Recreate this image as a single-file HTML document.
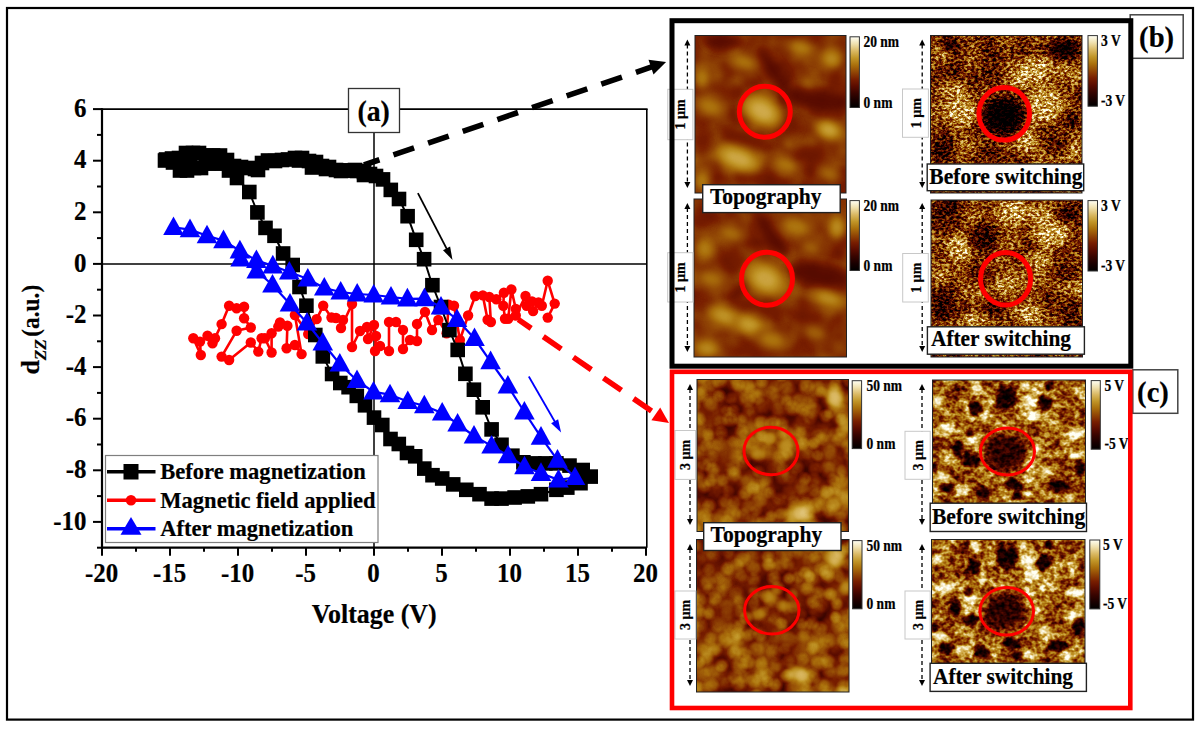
<!DOCTYPE html>
<html><head><meta charset="utf-8"><style>
html,body{margin:0;padding:0;background:#fff;width:1201px;height:729px;overflow:hidden}
svg{display:block}
text{font-family:'Liberation Serif',serif;font-weight:bold;stroke:#000;stroke-width:0.2px}
</style></head><body>
<svg width="1201" height="729" viewBox="0 0 1201 729">
<rect x="0" y="0" width="1201" height="729" fill="#fff"/>
<rect x="7" y="8" width="1186" height="711.6" fill="none" stroke="#000" stroke-width="2.2"/>

<line x1="102.0" y1="109.09999999999997" x2="647.6" y2="109.09999999999997" stroke="#000" stroke-width="1.6"/>
<line x1="646.8" y1="109.09999999999997" x2="646.8" y2="547.7" stroke="#000" stroke-width="1.6"/>
<line x1="102.0" y1="108.29999999999997" x2="102.0" y2="548.7" stroke="#000" stroke-width="2.2"/>
<line x1="101.0" y1="547.7" x2="647.0" y2="547.7" stroke="#000" stroke-width="2.2"/>
<line x1="102.0" y1="263.9" x2="646.0" y2="263.9" stroke="#000" stroke-width="1.5"/>
<line x1="374.0" y1="109.09999999999997" x2="374.0" y2="547.7" stroke="#000" stroke-width="1.5"/>
<line x1="97.0" y1="547.7" x2="102.0" y2="547.7" stroke="#000" stroke-width="2"/>
<line x1="93.0" y1="521.9" x2="102.0" y2="521.9" stroke="#000" stroke-width="2"/>
<text transform="translate(86.4,529.5) scale(1,1.075)" font-size="24.9" text-anchor="end">-10</text>
<line x1="97.0" y1="496.1" x2="102.0" y2="496.1" stroke="#000" stroke-width="2"/>
<line x1="93.0" y1="470.3" x2="102.0" y2="470.3" stroke="#000" stroke-width="2"/>
<text transform="translate(86.4,477.9) scale(1,1.075)" font-size="24.9" text-anchor="end">-8</text>
<line x1="97.0" y1="444.5" x2="102.0" y2="444.5" stroke="#000" stroke-width="2"/>
<line x1="93.0" y1="418.7" x2="102.0" y2="418.7" stroke="#000" stroke-width="2"/>
<text transform="translate(86.4,426.3) scale(1,1.075)" font-size="24.9" text-anchor="end">-6</text>
<line x1="97.0" y1="392.9" x2="102.0" y2="392.9" stroke="#000" stroke-width="2"/>
<line x1="93.0" y1="367.1" x2="102.0" y2="367.1" stroke="#000" stroke-width="2"/>
<text transform="translate(86.4,374.7) scale(1,1.075)" font-size="24.9" text-anchor="end">-4</text>
<line x1="97.0" y1="341.3" x2="102.0" y2="341.3" stroke="#000" stroke-width="2"/>
<line x1="93.0" y1="315.5" x2="102.0" y2="315.5" stroke="#000" stroke-width="2"/>
<text transform="translate(86.4,323.1) scale(1,1.075)" font-size="24.9" text-anchor="end">-2</text>
<line x1="97.0" y1="289.7" x2="102.0" y2="289.7" stroke="#000" stroke-width="2"/>
<line x1="93.0" y1="263.9" x2="102.0" y2="263.9" stroke="#000" stroke-width="2"/>
<text transform="translate(86.4,271.5) scale(1,1.075)" font-size="24.9" text-anchor="end">0</text>
<line x1="97.0" y1="238.1" x2="102.0" y2="238.1" stroke="#000" stroke-width="2"/>
<line x1="93.0" y1="212.3" x2="102.0" y2="212.3" stroke="#000" stroke-width="2"/>
<text transform="translate(86.4,219.9) scale(1,1.075)" font-size="24.9" text-anchor="end">2</text>
<line x1="97.0" y1="186.5" x2="102.0" y2="186.5" stroke="#000" stroke-width="2"/>
<line x1="93.0" y1="160.7" x2="102.0" y2="160.7" stroke="#000" stroke-width="2"/>
<text transform="translate(86.4,168.3) scale(1,1.075)" font-size="24.9" text-anchor="end">4</text>
<line x1="97.0" y1="134.9" x2="102.0" y2="134.9" stroke="#000" stroke-width="2"/>
<line x1="93.0" y1="109.1" x2="102.0" y2="109.1" stroke="#000" stroke-width="2"/>
<text transform="translate(86.4,116.7) scale(1,1.075)" font-size="24.9" text-anchor="end">6</text>
<line x1="102.0" y1="547.7" x2="102.0" y2="555.7" stroke="#000" stroke-width="2"/>
<text transform="translate(101.5,581.6) scale(1,1.075)" font-size="24.9" text-anchor="middle">-20</text>
<line x1="136.0" y1="547.7" x2="136.0" y2="551.7" stroke="#000" stroke-width="2"/>
<line x1="170.0" y1="547.7" x2="170.0" y2="555.7" stroke="#000" stroke-width="2"/>
<text transform="translate(169.5,581.6) scale(1,1.075)" font-size="24.9" text-anchor="middle">-15</text>
<line x1="204.0" y1="547.7" x2="204.0" y2="551.7" stroke="#000" stroke-width="2"/>
<line x1="238.0" y1="547.7" x2="238.0" y2="555.7" stroke="#000" stroke-width="2"/>
<text transform="translate(237.5,581.6) scale(1,1.075)" font-size="24.9" text-anchor="middle">-10</text>
<line x1="272.0" y1="547.7" x2="272.0" y2="551.7" stroke="#000" stroke-width="2"/>
<line x1="306.0" y1="547.7" x2="306.0" y2="555.7" stroke="#000" stroke-width="2"/>
<text transform="translate(305.5,581.6) scale(1,1.075)" font-size="24.9" text-anchor="middle">-5</text>
<line x1="340.0" y1="547.7" x2="340.0" y2="551.7" stroke="#000" stroke-width="2"/>
<line x1="374.0" y1="547.7" x2="374.0" y2="555.7" stroke="#000" stroke-width="2"/>
<text transform="translate(373.5,581.6) scale(1,1.075)" font-size="24.9" text-anchor="middle">0</text>
<line x1="408.0" y1="547.7" x2="408.0" y2="551.7" stroke="#000" stroke-width="2"/>
<line x1="442.0" y1="547.7" x2="442.0" y2="555.7" stroke="#000" stroke-width="2"/>
<text transform="translate(441.5,581.6) scale(1,1.075)" font-size="24.9" text-anchor="middle">5</text>
<line x1="476.0" y1="547.7" x2="476.0" y2="551.7" stroke="#000" stroke-width="2"/>
<line x1="510.0" y1="547.7" x2="510.0" y2="555.7" stroke="#000" stroke-width="2"/>
<text transform="translate(509.5,581.6) scale(1,1.075)" font-size="24.9" text-anchor="middle">10</text>
<line x1="544.0" y1="547.7" x2="544.0" y2="551.7" stroke="#000" stroke-width="2"/>
<line x1="578.0" y1="547.7" x2="578.0" y2="555.7" stroke="#000" stroke-width="2"/>
<text transform="translate(577.5,581.6) scale(1,1.075)" font-size="24.9" text-anchor="middle">15</text>
<line x1="612.0" y1="547.7" x2="612.0" y2="551.7" stroke="#000" stroke-width="2"/>
<line x1="646.0" y1="547.7" x2="646.0" y2="555.7" stroke="#000" stroke-width="2"/>
<text transform="translate(645.5,581.6) scale(1,1.075)" font-size="24.9" text-anchor="middle">20</text>
<text transform="translate(374.2,623.2) scale(1,1.05)" font-size="25.9" text-anchor="middle">Voltage (V)</text>
<g transform="translate(38.8,374.6) rotate(-90)"><text x="0" y="0" font-size="26">d</text><text x="14.4" y="7.2" font-size="16.8" font-style="italic" textLength="21" lengthAdjust="spacingAndGlyphs">ZZ</text><text x="37.8" y="0" font-size="24.6" textLength="52" lengthAdjust="spacingAndGlyphs">(a.u.)</text></g>
<polyline points="193.3,338.3 200.8,355.0 200.0,341.6 207.5,335.8 215.0,338.3 212.5,343.3 221.6,324.1 229.1,305.8 236.6,308.3 244.1,306.7 244.1,318.3 250.8,327.5 236.6,330.8 221.6,356.6 229.1,360.0 250.8,342.5 258.3,351.6 261.6,338.3 264.9,338.3 271.6,352.5 271.6,333.3 278.3,326.6 280.0,322.5 287.4,325.8 286.6,348.3 294.9,345.0 301.6,354.1 294.9,315.0 308.2,334.1 316.6,319.1 323.2,305.8 331.5,317.5 336.0,318.0 343.0,320.0 341.0,328.0 352.0,304.0 352.0,347.0 360.0,331.0 367.0,327.0 368.0,339.0 374.0,325.0 376.0,336.0 375.0,351.0 380.0,346.0 389.0,351.0 389.0,322.0 396.0,322.0 403.0,330.0 403.0,349.0 410.0,340.0 417.0,341.0 417.0,324.0 425.0,312.0 432.0,330.0 438.3,320.0 446.6,333.3 448.7,304.6 454.0,305.7 459.9,340.0 468.1,315.5 475.2,296.0 482.8,295.4 487.6,319.8 490.9,322.0 489.3,297.0 496.3,299.2 503.9,292.7 503.3,305.7 505.0,318.7 508.2,318.7 511.4,289.5 515.8,309.0 515.8,315.5 525.5,296.0 526.6,305.7 532.0,301.4 533.1,311.1 538.5,302.5 541.8,305.7 547.7,280.8 554.7,303.6 547.7,317.6" fill="none" stroke="#f00" stroke-width="2.6" stroke-linejoin="round"/>
<circle cx="193.3" cy="338.3" r="5.2" fill="#f00"/>
<circle cx="200.8" cy="355.0" r="5.2" fill="#f00"/>
<circle cx="200.0" cy="341.6" r="5.2" fill="#f00"/>
<circle cx="207.5" cy="335.8" r="5.2" fill="#f00"/>
<circle cx="215.0" cy="338.3" r="5.2" fill="#f00"/>
<circle cx="212.5" cy="343.3" r="5.2" fill="#f00"/>
<circle cx="221.6" cy="324.1" r="5.2" fill="#f00"/>
<circle cx="229.1" cy="305.8" r="5.2" fill="#f00"/>
<circle cx="236.6" cy="308.3" r="5.2" fill="#f00"/>
<circle cx="244.1" cy="306.7" r="5.2" fill="#f00"/>
<circle cx="244.1" cy="318.3" r="5.2" fill="#f00"/>
<circle cx="250.8" cy="327.5" r="5.2" fill="#f00"/>
<circle cx="236.6" cy="330.8" r="5.2" fill="#f00"/>
<circle cx="221.6" cy="356.6" r="5.2" fill="#f00"/>
<circle cx="229.1" cy="360.0" r="5.2" fill="#f00"/>
<circle cx="250.8" cy="342.5" r="5.2" fill="#f00"/>
<circle cx="258.3" cy="351.6" r="5.2" fill="#f00"/>
<circle cx="261.6" cy="338.3" r="5.2" fill="#f00"/>
<circle cx="264.9" cy="338.3" r="5.2" fill="#f00"/>
<circle cx="271.6" cy="352.5" r="5.2" fill="#f00"/>
<circle cx="271.6" cy="333.3" r="5.2" fill="#f00"/>
<circle cx="278.3" cy="326.6" r="5.2" fill="#f00"/>
<circle cx="280.0" cy="322.5" r="5.2" fill="#f00"/>
<circle cx="287.4" cy="325.8" r="5.2" fill="#f00"/>
<circle cx="286.6" cy="348.3" r="5.2" fill="#f00"/>
<circle cx="294.9" cy="345.0" r="5.2" fill="#f00"/>
<circle cx="301.6" cy="354.1" r="5.2" fill="#f00"/>
<circle cx="294.9" cy="315.0" r="5.2" fill="#f00"/>
<circle cx="308.2" cy="334.1" r="5.2" fill="#f00"/>
<circle cx="316.6" cy="319.1" r="5.2" fill="#f00"/>
<circle cx="323.2" cy="305.8" r="5.2" fill="#f00"/>
<circle cx="331.5" cy="317.5" r="5.2" fill="#f00"/>
<circle cx="336.0" cy="318.0" r="5.2" fill="#f00"/>
<circle cx="343.0" cy="320.0" r="5.2" fill="#f00"/>
<circle cx="341.0" cy="328.0" r="5.2" fill="#f00"/>
<circle cx="352.0" cy="304.0" r="5.2" fill="#f00"/>
<circle cx="352.0" cy="347.0" r="5.2" fill="#f00"/>
<circle cx="360.0" cy="331.0" r="5.2" fill="#f00"/>
<circle cx="367.0" cy="327.0" r="5.2" fill="#f00"/>
<circle cx="368.0" cy="339.0" r="5.2" fill="#f00"/>
<circle cx="374.0" cy="325.0" r="5.2" fill="#f00"/>
<circle cx="376.0" cy="336.0" r="5.2" fill="#f00"/>
<circle cx="375.0" cy="351.0" r="5.2" fill="#f00"/>
<circle cx="380.0" cy="346.0" r="5.2" fill="#f00"/>
<circle cx="389.0" cy="351.0" r="5.2" fill="#f00"/>
<circle cx="389.0" cy="322.0" r="5.2" fill="#f00"/>
<circle cx="396.0" cy="322.0" r="5.2" fill="#f00"/>
<circle cx="403.0" cy="330.0" r="5.2" fill="#f00"/>
<circle cx="403.0" cy="349.0" r="5.2" fill="#f00"/>
<circle cx="410.0" cy="340.0" r="5.2" fill="#f00"/>
<circle cx="417.0" cy="341.0" r="5.2" fill="#f00"/>
<circle cx="417.0" cy="324.0" r="5.2" fill="#f00"/>
<circle cx="425.0" cy="312.0" r="5.2" fill="#f00"/>
<circle cx="432.0" cy="330.0" r="5.2" fill="#f00"/>
<circle cx="438.3" cy="320.0" r="5.2" fill="#f00"/>
<circle cx="446.6" cy="333.3" r="5.2" fill="#f00"/>
<circle cx="448.7" cy="304.6" r="5.2" fill="#f00"/>
<circle cx="454.0" cy="305.7" r="5.2" fill="#f00"/>
<circle cx="459.9" cy="340.0" r="5.2" fill="#f00"/>
<circle cx="468.1" cy="315.5" r="5.2" fill="#f00"/>
<circle cx="475.2" cy="296.0" r="5.2" fill="#f00"/>
<circle cx="482.8" cy="295.4" r="5.2" fill="#f00"/>
<circle cx="487.6" cy="319.8" r="5.2" fill="#f00"/>
<circle cx="490.9" cy="322.0" r="5.2" fill="#f00"/>
<circle cx="489.3" cy="297.0" r="5.2" fill="#f00"/>
<circle cx="496.3" cy="299.2" r="5.2" fill="#f00"/>
<circle cx="503.9" cy="292.7" r="5.2" fill="#f00"/>
<circle cx="503.3" cy="305.7" r="5.2" fill="#f00"/>
<circle cx="505.0" cy="318.7" r="5.2" fill="#f00"/>
<circle cx="508.2" cy="318.7" r="5.2" fill="#f00"/>
<circle cx="511.4" cy="289.5" r="5.2" fill="#f00"/>
<circle cx="515.8" cy="309.0" r="5.2" fill="#f00"/>
<circle cx="515.8" cy="315.5" r="5.2" fill="#f00"/>
<circle cx="525.5" cy="296.0" r="5.2" fill="#f00"/>
<circle cx="526.6" cy="305.7" r="5.2" fill="#f00"/>
<circle cx="532.0" cy="301.4" r="5.2" fill="#f00"/>
<circle cx="533.1" cy="311.1" r="5.2" fill="#f00"/>
<circle cx="538.5" cy="302.5" r="5.2" fill="#f00"/>
<circle cx="541.8" cy="305.7" r="5.2" fill="#f00"/>
<circle cx="547.7" cy="280.8" r="5.2" fill="#f00"/>
<circle cx="554.7" cy="303.6" r="5.2" fill="#f00"/>
<circle cx="547.7" cy="317.6" r="5.2" fill="#f00"/>
<polyline points="165.0,160.5 172.0,158.5 179.0,158.0 190.0,161.0 186.0,153.0 193.0,153.0 199.0,153.0 206.0,155.5 213.0,155.5 220.0,155.5 227.0,160.0 234.0,166.0 241.0,167.0 248.0,168.0 255.0,169.0 258.0,170.0 262.0,163.0 268.0,160.5 275.0,161.0 282.0,160.0 288.0,159.5 295.0,158.0 302.0,158.0 299.0,160.5 309.0,161.0 312.0,167.5 316.0,162.0 322.0,166.0 326.0,169.0 329.0,167.0 336.0,170.0 341.0,171.0 343.0,170.5 350.0,170.5 355.0,170.0 357.0,171.0 364.0,172.0 364.0,175.0 370.0,174.0 376.0,176.0 383.0,179.4 390.8,189.9 399.0,199.0 407.6,216.2 416.2,239.8 424.1,259.2 432.4,285.2 441.0,307.0 449.4,330.1 457.7,349.9 465.4,373.8 473.9,389.7 482.7,407.3 491.6,429.4 501.5,444.8 512.4,455.7 523.4,462.3 534.4,463.4 545.4,463.4 556.4,463.4 569.5,465.6 582.7,470.0 590.7,476.6 580.5,483.2 567.3,487.6 556.4,489.8 541.0,494.2 527.8,496.4 514.6,497.5 501.5,498.6 491.6,498.6 479.5,494.2 466.3,489.8 453.2,484.4 442.2,478.5 432.5,475.2 424.3,468.6 415.2,456.3 407.0,453.0 398.8,444.0 390.5,439.0 382.3,425.0 374.0,417.6 365.0,405.3 356.8,395.9 348.6,387.2 340.3,383.0 332.1,374.0 322.8,356.4 315.3,335.0 306.4,305.7 299.5,287.0 292.7,265.0 283.1,253.5 274.5,235.8 265.5,227.9 257.4,212.4 249.3,192.0 237.0,178.0 229.0,170.5 222.0,163.5 215.0,163.5 208.0,163.5 201.0,168.0 194.0,168.0 187.0,170.5 180.0,170.5 173.0,162.5 166.0,159.5" fill="none" stroke="#000" stroke-width="2" stroke-linejoin="round"/>
<rect x="157.7" y="153.2" width="14.6" height="14.6" fill="#000"/>
<rect x="164.7" y="151.2" width="14.6" height="14.6" fill="#000"/>
<rect x="171.7" y="150.7" width="14.6" height="14.6" fill="#000"/>
<rect x="182.7" y="153.7" width="14.6" height="14.6" fill="#000"/>
<rect x="178.7" y="145.7" width="14.6" height="14.6" fill="#000"/>
<rect x="185.7" y="145.7" width="14.6" height="14.6" fill="#000"/>
<rect x="191.7" y="145.7" width="14.6" height="14.6" fill="#000"/>
<rect x="198.7" y="148.2" width="14.6" height="14.6" fill="#000"/>
<rect x="205.7" y="148.2" width="14.6" height="14.6" fill="#000"/>
<rect x="212.7" y="148.2" width="14.6" height="14.6" fill="#000"/>
<rect x="219.7" y="152.7" width="14.6" height="14.6" fill="#000"/>
<rect x="226.7" y="158.7" width="14.6" height="14.6" fill="#000"/>
<rect x="233.7" y="159.7" width="14.6" height="14.6" fill="#000"/>
<rect x="240.7" y="160.7" width="14.6" height="14.6" fill="#000"/>
<rect x="247.7" y="161.7" width="14.6" height="14.6" fill="#000"/>
<rect x="250.7" y="162.7" width="14.6" height="14.6" fill="#000"/>
<rect x="254.7" y="155.7" width="14.6" height="14.6" fill="#000"/>
<rect x="260.7" y="153.2" width="14.6" height="14.6" fill="#000"/>
<rect x="267.7" y="153.7" width="14.6" height="14.6" fill="#000"/>
<rect x="274.7" y="152.7" width="14.6" height="14.6" fill="#000"/>
<rect x="280.7" y="152.2" width="14.6" height="14.6" fill="#000"/>
<rect x="287.7" y="150.7" width="14.6" height="14.6" fill="#000"/>
<rect x="294.7" y="150.7" width="14.6" height="14.6" fill="#000"/>
<rect x="291.7" y="153.2" width="14.6" height="14.6" fill="#000"/>
<rect x="301.7" y="153.7" width="14.6" height="14.6" fill="#000"/>
<rect x="304.7" y="160.2" width="14.6" height="14.6" fill="#000"/>
<rect x="308.7" y="154.7" width="14.6" height="14.6" fill="#000"/>
<rect x="314.7" y="158.7" width="14.6" height="14.6" fill="#000"/>
<rect x="318.7" y="161.7" width="14.6" height="14.6" fill="#000"/>
<rect x="321.7" y="159.7" width="14.6" height="14.6" fill="#000"/>
<rect x="328.7" y="162.7" width="14.6" height="14.6" fill="#000"/>
<rect x="333.7" y="163.7" width="14.6" height="14.6" fill="#000"/>
<rect x="335.7" y="163.2" width="14.6" height="14.6" fill="#000"/>
<rect x="342.7" y="163.2" width="14.6" height="14.6" fill="#000"/>
<rect x="347.7" y="162.7" width="14.6" height="14.6" fill="#000"/>
<rect x="349.7" y="163.7" width="14.6" height="14.6" fill="#000"/>
<rect x="356.7" y="164.7" width="14.6" height="14.6" fill="#000"/>
<rect x="356.7" y="167.7" width="14.6" height="14.6" fill="#000"/>
<rect x="362.7" y="166.7" width="14.6" height="14.6" fill="#000"/>
<rect x="368.7" y="168.7" width="14.6" height="14.6" fill="#000"/>
<rect x="375.7" y="172.1" width="14.6" height="14.6" fill="#000"/>
<rect x="383.5" y="182.6" width="14.6" height="14.6" fill="#000"/>
<rect x="391.7" y="191.7" width="14.6" height="14.6" fill="#000"/>
<rect x="400.3" y="208.9" width="14.6" height="14.6" fill="#000"/>
<rect x="408.9" y="232.5" width="14.6" height="14.6" fill="#000"/>
<rect x="416.8" y="251.9" width="14.6" height="14.6" fill="#000"/>
<rect x="425.1" y="277.9" width="14.6" height="14.6" fill="#000"/>
<rect x="433.7" y="299.7" width="14.6" height="14.6" fill="#000"/>
<rect x="442.1" y="322.8" width="14.6" height="14.6" fill="#000"/>
<rect x="450.4" y="342.6" width="14.6" height="14.6" fill="#000"/>
<rect x="458.1" y="366.5" width="14.6" height="14.6" fill="#000"/>
<rect x="466.6" y="382.4" width="14.6" height="14.6" fill="#000"/>
<rect x="475.4" y="400.0" width="14.6" height="14.6" fill="#000"/>
<rect x="484.3" y="422.1" width="14.6" height="14.6" fill="#000"/>
<rect x="494.2" y="437.5" width="14.6" height="14.6" fill="#000"/>
<rect x="505.1" y="448.4" width="14.6" height="14.6" fill="#000"/>
<rect x="516.1" y="455.0" width="14.6" height="14.6" fill="#000"/>
<rect x="527.1" y="456.1" width="14.6" height="14.6" fill="#000"/>
<rect x="538.1" y="456.1" width="14.6" height="14.6" fill="#000"/>
<rect x="549.1" y="456.1" width="14.6" height="14.6" fill="#000"/>
<rect x="562.2" y="458.3" width="14.6" height="14.6" fill="#000"/>
<rect x="575.4" y="462.7" width="14.6" height="14.6" fill="#000"/>
<rect x="583.4" y="469.3" width="14.6" height="14.6" fill="#000"/>
<rect x="573.2" y="475.9" width="14.6" height="14.6" fill="#000"/>
<rect x="560.0" y="480.3" width="14.6" height="14.6" fill="#000"/>
<rect x="549.1" y="482.5" width="14.6" height="14.6" fill="#000"/>
<rect x="533.7" y="486.9" width="14.6" height="14.6" fill="#000"/>
<rect x="520.5" y="489.1" width="14.6" height="14.6" fill="#000"/>
<rect x="507.3" y="490.2" width="14.6" height="14.6" fill="#000"/>
<rect x="494.2" y="491.3" width="14.6" height="14.6" fill="#000"/>
<rect x="484.3" y="491.3" width="14.6" height="14.6" fill="#000"/>
<rect x="472.2" y="486.9" width="14.6" height="14.6" fill="#000"/>
<rect x="459.0" y="482.5" width="14.6" height="14.6" fill="#000"/>
<rect x="445.9" y="477.1" width="14.6" height="14.6" fill="#000"/>
<rect x="434.9" y="471.2" width="14.6" height="14.6" fill="#000"/>
<rect x="425.2" y="467.9" width="14.6" height="14.6" fill="#000"/>
<rect x="417.0" y="461.3" width="14.6" height="14.6" fill="#000"/>
<rect x="407.9" y="449.0" width="14.6" height="14.6" fill="#000"/>
<rect x="399.7" y="445.7" width="14.6" height="14.6" fill="#000"/>
<rect x="391.5" y="436.7" width="14.6" height="14.6" fill="#000"/>
<rect x="383.2" y="431.7" width="14.6" height="14.6" fill="#000"/>
<rect x="375.0" y="417.7" width="14.6" height="14.6" fill="#000"/>
<rect x="366.7" y="410.3" width="14.6" height="14.6" fill="#000"/>
<rect x="357.7" y="398.0" width="14.6" height="14.6" fill="#000"/>
<rect x="349.5" y="388.6" width="14.6" height="14.6" fill="#000"/>
<rect x="341.3" y="379.9" width="14.6" height="14.6" fill="#000"/>
<rect x="333.0" y="375.7" width="14.6" height="14.6" fill="#000"/>
<rect x="324.8" y="366.7" width="14.6" height="14.6" fill="#000"/>
<rect x="315.5" y="349.1" width="14.6" height="14.6" fill="#000"/>
<rect x="308.0" y="327.7" width="14.6" height="14.6" fill="#000"/>
<rect x="299.1" y="298.4" width="14.6" height="14.6" fill="#000"/>
<rect x="292.2" y="279.7" width="14.6" height="14.6" fill="#000"/>
<rect x="285.4" y="257.7" width="14.6" height="14.6" fill="#000"/>
<rect x="275.8" y="246.2" width="14.6" height="14.6" fill="#000"/>
<rect x="267.2" y="228.5" width="14.6" height="14.6" fill="#000"/>
<rect x="258.2" y="220.6" width="14.6" height="14.6" fill="#000"/>
<rect x="250.1" y="205.1" width="14.6" height="14.6" fill="#000"/>
<rect x="242.0" y="184.7" width="14.6" height="14.6" fill="#000"/>
<rect x="229.7" y="170.7" width="14.6" height="14.6" fill="#000"/>
<rect x="221.7" y="163.2" width="14.6" height="14.6" fill="#000"/>
<rect x="214.7" y="156.2" width="14.6" height="14.6" fill="#000"/>
<rect x="207.7" y="156.2" width="14.6" height="14.6" fill="#000"/>
<rect x="200.7" y="156.2" width="14.6" height="14.6" fill="#000"/>
<rect x="193.7" y="160.7" width="14.6" height="14.6" fill="#000"/>
<rect x="186.7" y="160.7" width="14.6" height="14.6" fill="#000"/>
<rect x="179.7" y="163.2" width="14.6" height="14.6" fill="#000"/>
<rect x="172.7" y="163.2" width="14.6" height="14.6" fill="#000"/>
<rect x="165.7" y="155.2" width="14.6" height="14.6" fill="#000"/>
<rect x="158.7" y="152.2" width="14.6" height="14.6" fill="#000"/>
<polyline points="173.5,227.4 190.0,229.6 207.0,235.7 223.5,240.6 239.9,250.8 256.4,260.4 272.8,265.8 289.3,272.0 307.8,279.0 324.3,288.0 340.7,292.0 357.2,294.0 373.7,295.0 391.0,297.0 407.4,298.8 424.5,298.6 441.0,307.0 457.0,319.4 474.5,338.5 490.6,361.6 507.9,386.0 524.4,412.0 541.0,437.1 557.5,460.1 575.0,477.5 558.5,479.9 541.0,473.3 524.5,466.7 508.1,455.7 491.6,445.9 474.0,436.0 457.6,423.9 442.2,413.0 424.3,405.7 407.8,401.5 390.0,394.7 373.5,391.9 357.0,380.5 339.8,364.0 322.8,343.0 307.0,323.0 290.0,304.0 272.5,285.0 256.7,271.0 240.6,259.0" fill="none" stroke="#00f" stroke-width="2.2" stroke-linejoin="round"/>
<path d="M173.5,216.4L183.8,235.0L163.2,235.0Z" fill="#00f"/>
<path d="M190.0,218.6L200.3,237.2L179.7,237.2Z" fill="#00f"/>
<path d="M207.0,224.7L217.3,243.3L196.7,243.3Z" fill="#00f"/>
<path d="M223.5,229.6L233.8,248.2L213.2,248.2Z" fill="#00f"/>
<path d="M239.9,239.8L250.2,258.4L229.6,258.4Z" fill="#00f"/>
<path d="M256.4,249.4L266.7,268.0L246.1,268.0Z" fill="#00f"/>
<path d="M272.8,254.8L283.1,273.4L262.5,273.4Z" fill="#00f"/>
<path d="M289.3,261.0L299.6,279.6L279.0,279.6Z" fill="#00f"/>
<path d="M307.8,268.0L318.1,286.6L297.5,286.6Z" fill="#00f"/>
<path d="M324.3,277.0L334.6,295.6L314.0,295.6Z" fill="#00f"/>
<path d="M340.7,281.0L351.0,299.6L330.4,299.6Z" fill="#00f"/>
<path d="M357.2,283.0L367.5,301.6L346.9,301.6Z" fill="#00f"/>
<path d="M373.7,284.0L384.0,302.6L363.4,302.6Z" fill="#00f"/>
<path d="M391.0,286.0L401.3,304.6L380.7,304.6Z" fill="#00f"/>
<path d="M407.4,287.8L417.7,306.4L397.1,306.4Z" fill="#00f"/>
<path d="M424.5,287.6L434.8,306.2L414.2,306.2Z" fill="#00f"/>
<path d="M441.0,296.0L451.3,314.6L430.7,314.6Z" fill="#00f"/>
<path d="M457.0,308.4L467.3,327.0L446.7,327.0Z" fill="#00f"/>
<path d="M474.5,327.5L484.8,346.1L464.2,346.1Z" fill="#00f"/>
<path d="M490.6,350.6L500.9,369.2L480.3,369.2Z" fill="#00f"/>
<path d="M507.9,375.0L518.2,393.6L497.6,393.6Z" fill="#00f"/>
<path d="M524.4,401.0L534.7,419.6L514.1,419.6Z" fill="#00f"/>
<path d="M541.0,426.1L551.3,444.7L530.7,444.7Z" fill="#00f"/>
<path d="M557.5,449.1L567.8,467.7L547.2,467.7Z" fill="#00f"/>
<path d="M575.0,466.5L585.3,485.1L564.7,485.1Z" fill="#00f"/>
<path d="M558.5,468.9L568.8,487.5L548.2,487.5Z" fill="#00f"/>
<path d="M541.0,462.3L551.3,480.9L530.7,480.9Z" fill="#00f"/>
<path d="M524.5,455.7L534.8,474.3L514.2,474.3Z" fill="#00f"/>
<path d="M508.1,444.7L518.4,463.3L497.8,463.3Z" fill="#00f"/>
<path d="M491.6,434.9L501.9,453.5L481.3,453.5Z" fill="#00f"/>
<path d="M474.0,425.0L484.3,443.6L463.7,443.6Z" fill="#00f"/>
<path d="M457.6,412.9L467.9,431.5L447.3,431.5Z" fill="#00f"/>
<path d="M442.2,402.0L452.5,420.6L431.9,420.6Z" fill="#00f"/>
<path d="M424.3,394.7L434.6,413.3L414.0,413.3Z" fill="#00f"/>
<path d="M407.8,390.5L418.1,409.1L397.5,409.1Z" fill="#00f"/>
<path d="M390.0,383.7L400.3,402.3L379.7,402.3Z" fill="#00f"/>
<path d="M373.5,380.9L383.8,399.5L363.2,399.5Z" fill="#00f"/>
<path d="M357.0,369.5L367.3,388.1L346.7,388.1Z" fill="#00f"/>
<path d="M339.8,353.0L350.1,371.6L329.5,371.6Z" fill="#00f"/>
<path d="M322.8,332.0L333.1,350.6L312.5,350.6Z" fill="#00f"/>
<path d="M307.0,312.0L317.3,330.6L296.7,330.6Z" fill="#00f"/>
<path d="M290.0,293.0L300.3,311.6L279.7,311.6Z" fill="#00f"/>
<path d="M272.5,274.0L282.8,292.6L262.2,292.6Z" fill="#00f"/>
<path d="M256.7,260.0L267.0,278.6L246.4,278.6Z" fill="#00f"/>
<path d="M240.6,248.0L250.9,266.6L230.3,266.6Z" fill="#00f"/>
<rect x="105.5" y="455.5" width="272.5" height="87" fill="#fff" stroke="#7f7f7f" stroke-width="1.2"/>
<line x1="107" y1="471.7" x2="155.5" y2="471.7" stroke="#000" stroke-width="3.6"/><rect x="123.5" y="464" width="15" height="15.5" fill="#000"/>
<line x1="107" y1="500.2" x2="155.5" y2="500.2" stroke="#f00" stroke-width="3.6"/><circle cx="131" cy="500.2" r="5.3" fill="#f00"/>
<line x1="107" y1="528.7" x2="155.5" y2="528.7" stroke="#00f" stroke-width="3.6"/><path d="M131,517L141.5,534.8L120.5,534.8Z" fill="#00f"/>
<text transform="translate(160.3,479.2) scale(1,1.045)" font-size="22.55" text-anchor="start">Before magnetization</text>
<text transform="translate(160.3,507.7) scale(1,1.045)" font-size="22.55" text-anchor="start">Magnetic field applied</text>
<text transform="translate(160.3,535.9) scale(1,1.045)" font-size="22.55" text-anchor="start">After magnetization</text>
<rect x="348.5" y="88.5" width="51" height="44" fill="#fff" stroke="#333" stroke-width="1.3"/>
<text transform="translate(373.6,121.3) scale(1,1.06)" font-size="27.8" text-anchor="middle">(a)</text>
<line x1="417.9" y1="193.2" x2="448.3" y2="251.8" stroke="#000" stroke-width="1.8" /><path d="M452.5,259.9L443.0,250.2L450.1,246.5Z" fill="#000"/>
<line x1="528.8" y1="376.5" x2="556.6" y2="424.7" stroke="#00f" stroke-width="1.8" /><path d="M561.1,432.6L551.1,423.3L558.1,419.3Z" fill="#00f"/>
<line x1="364.0" y1="165.0" x2="653.8" y2="66.2" stroke="#000" stroke-width="5.6" stroke-dasharray="21.8,14.8" stroke-dashoffset="5.49"/><path d="M666.1,62.0L653.5,74.5L648.5,59.8Z" fill="#000"/>
<line x1="518.3" y1="319.5" x2="658.3" y2="415.6" stroke="#f00" stroke-width="5.6" stroke-dasharray="21.8,14.7" stroke-dashoffset="6.19"/><path d="M669.0,423.0L651.4,420.3L660.2,407.6Z" fill="#f00"/>
<defs>
<linearGradient id="cbar" x1="0" y1="1" x2="0" y2="0"><stop offset="0.0" stop-color="rgb(0,0,0)"/><stop offset="0.1" stop-color="rgb(25,0,0)"/><stop offset="0.2" stop-color="rgb(55,4,0)"/><stop offset="0.3" stop-color="rgb(90,12,0)"/><stop offset="0.4" stop-color="rgb(120,30,0)"/><stop offset="0.5" stop-color="rgb(145,70,5)"/><stop offset="0.6" stop-color="rgb(170,112,12)"/><stop offset="0.7" stop-color="rgb(193,150,40)"/><stop offset="0.8" stop-color="rgb(218,185,100)"/><stop offset="0.9" stop-color="rgb(240,225,175)"/><stop offset="1.0" stop-color="rgb(255,255,245)"/></linearGradient>
<filter id="bl1" x="-100%" y="-100%" width="300%" height="300%"><feGaussianBlur stdDeviation="1"/></filter>
<filter id="bl1_5" x="-100%" y="-100%" width="300%" height="300%"><feGaussianBlur stdDeviation="1.5"/></filter>
<filter id="bl2" x="-100%" y="-100%" width="300%" height="300%"><feGaussianBlur stdDeviation="2"/></filter>
<filter id="bl2_5" x="-100%" y="-100%" width="300%" height="300%"><feGaussianBlur stdDeviation="2.5"/></filter>
<filter id="bl3" x="-100%" y="-100%" width="300%" height="300%"><feGaussianBlur stdDeviation="3"/></filter>
<filter id="bl4" x="-100%" y="-100%" width="300%" height="300%"><feGaussianBlur stdDeviation="4"/></filter>
<filter id="bl5" x="-100%" y="-100%" width="300%" height="300%"><feGaussianBlur stdDeviation="5"/></filter>
<filter id="bl6" x="-100%" y="-100%" width="300%" height="300%"><feGaussianBlur stdDeviation="6"/></filter>
<filter id="bl7" x="-100%" y="-100%" width="300%" height="300%"><feGaussianBlur stdDeviation="7"/></filter>
<filter id="bl8" x="-100%" y="-100%" width="300%" height="300%"><feGaussianBlur stdDeviation="8"/></filter>
<filter id="bl9" x="-100%" y="-100%" width="300%" height="300%"><feGaussianBlur stdDeviation="9"/></filter>
<filter id="bl10" x="-100%" y="-100%" width="300%" height="300%"><feGaussianBlur stdDeviation="10"/></filter>
<radialGradient id="grain"><stop offset="0" stop-color="#fff" stop-opacity="1"/><stop offset="0.55" stop-color="#fff" stop-opacity="0.7"/><stop offset="1" stop-color="#fff" stop-opacity="0"/></radialGradient>
<filter id="nz_b1_lo" x="0" y="0" width="1" height="1" color-interpolation-filters="sRGB"><feTurbulence type="fractalNoise" baseFrequency="0.04" numOctaves="2" seed="3"/><feColorMatrix type="matrix" values="0.45 0 0 0 0.215 0.45 0 0 0 0.215 0.45 0 0 0 0.215 0 0 0 0 1"/></filter>
<filter id="pal_b1" x="0" y="0" width="1" height="1" color-interpolation-filters="sRGB"><feComponentTransfer><feFuncR type="linear" slope="1.0" intercept="0.0"/><feFuncG type="linear" slope="1.0" intercept="0.0"/><feFuncB type="linear" slope="1.0" intercept="0.0"/></feComponentTransfer><feComponentTransfer><feFuncR type="table" tableValues="0.000 0.098 0.216 0.353 0.471 0.569 0.667 0.757 0.855 0.941 1.000"/><feFuncG type="table" tableValues="0.000 0.000 0.016 0.047 0.118 0.275 0.439 0.588 0.725 0.882 1.000"/><feFuncB type="table" tableValues="0.000 0.000 0.000 0.000 0.000 0.020 0.047 0.157 0.392 0.686 0.961"/></feComponentTransfer></filter>
<clipPath id="cp_b1"><rect x="695" y="35.5" width="151" height="157.5"/></clipPath>
<filter id="nz_b3_lo" x="0" y="0" width="1" height="1" color-interpolation-filters="sRGB"><feTurbulence type="fractalNoise" baseFrequency="0.04" numOctaves="2" seed="11"/><feColorMatrix type="matrix" values="0.45 0 0 0 0.215 0.45 0 0 0 0.215 0.45 0 0 0 0.215 0 0 0 0 1"/></filter>
<filter id="pal_b3" x="0" y="0" width="1" height="1" color-interpolation-filters="sRGB"><feComponentTransfer><feFuncR type="linear" slope="1.0" intercept="0.0"/><feFuncG type="linear" slope="1.0" intercept="0.0"/><feFuncB type="linear" slope="1.0" intercept="0.0"/></feComponentTransfer><feComponentTransfer><feFuncR type="table" tableValues="0.000 0.098 0.216 0.353 0.471 0.569 0.667 0.757 0.855 0.941 1.000"/><feFuncG type="table" tableValues="0.000 0.000 0.016 0.047 0.118 0.275 0.439 0.588 0.725 0.882 1.000"/><feFuncB type="table" tableValues="0.000 0.000 0.000 0.000 0.000 0.020 0.047 0.157 0.392 0.686 0.961"/></feComponentTransfer></filter>
<clipPath id="cp_b3"><rect x="694" y="199" width="152.5" height="158"/></clipPath>
<filter id="nz_b2_lo" x="0" y="0" width="1" height="1" color-interpolation-filters="sRGB"><feTurbulence type="fractalNoise" baseFrequency="0.03" numOctaves="2" seed="5"/><feColorMatrix type="matrix" values="0.8 0 0 0 0.100 0.8 0 0 0 0.100 0.8 0 0 0 0.100 0 0 0 0 1"/></filter>
<filter id="nz_b2_hi" x="0" y="0" width="1" height="1" color-interpolation-filters="sRGB"><feTurbulence type="fractalNoise" baseFrequency="0.28 0.42" numOctaves="3" seed="9"/><feColorMatrix type="matrix" values="2.6 0 0 0 -0.800 2.6 0 0 0 -0.800 2.6 0 0 0 -0.800 0 0 0 0 1"/></filter>
<filter id="pal_b2" x="0" y="0" width="1" height="1" color-interpolation-filters="sRGB"><feComponentTransfer><feFuncR type="linear" slope="1.45" intercept="-0.28"/><feFuncG type="linear" slope="1.45" intercept="-0.28"/><feFuncB type="linear" slope="1.45" intercept="-0.28"/></feComponentTransfer><feComponentTransfer><feFuncR type="table" tableValues="0.000 0.098 0.216 0.353 0.471 0.569 0.667 0.757 0.855 0.941 1.000"/><feFuncG type="table" tableValues="0.000 0.000 0.016 0.047 0.118 0.275 0.439 0.588 0.725 0.882 1.000"/><feFuncB type="table" tableValues="0.000 0.000 0.000 0.000 0.000 0.020 0.047 0.157 0.392 0.686 0.961"/></feComponentTransfer></filter>
<clipPath id="cp_b2"><rect x="930.5" y="35.5" width="151.5" height="157.5"/></clipPath>
<filter id="nz_b4_lo" x="0" y="0" width="1" height="1" color-interpolation-filters="sRGB"><feTurbulence type="fractalNoise" baseFrequency="0.03" numOctaves="2" seed="15"/><feColorMatrix type="matrix" values="0.8 0 0 0 0.100 0.8 0 0 0 0.100 0.8 0 0 0 0.100 0 0 0 0 1"/></filter>
<filter id="nz_b4_hi" x="0" y="0" width="1" height="1" color-interpolation-filters="sRGB"><feTurbulence type="fractalNoise" baseFrequency="0.28 0.42" numOctaves="3" seed="19"/><feColorMatrix type="matrix" values="2.6 0 0 0 -0.800 2.6 0 0 0 -0.800 2.6 0 0 0 -0.800 0 0 0 0 1"/></filter>
<filter id="pal_b4" x="0" y="0" width="1" height="1" color-interpolation-filters="sRGB"><feComponentTransfer><feFuncR type="linear" slope="1.45" intercept="-0.28"/><feFuncG type="linear" slope="1.45" intercept="-0.28"/><feFuncB type="linear" slope="1.45" intercept="-0.28"/></feComponentTransfer><feComponentTransfer><feFuncR type="table" tableValues="0.000 0.098 0.216 0.353 0.471 0.569 0.667 0.757 0.855 0.941 1.000"/><feFuncG type="table" tableValues="0.000 0.000 0.016 0.047 0.118 0.275 0.439 0.588 0.725 0.882 1.000"/><feFuncB type="table" tableValues="0.000 0.000 0.000 0.000 0.000 0.020 0.047 0.157 0.392 0.686 0.961"/></feComponentTransfer></filter>
<clipPath id="cp_b4"><rect x="931" y="200" width="151.5" height="157"/></clipPath>
<filter id="nz_c1_lo" x="0" y="0" width="1" height="1" color-interpolation-filters="sRGB"><feTurbulence type="fractalNoise" baseFrequency="0.035" numOctaves="2" seed="21"/><feColorMatrix type="matrix" values="1.1 0 0 0 -0.130 1.1 0 0 0 -0.130 1.1 0 0 0 -0.130 0 0 0 0 1"/></filter>
<filter id="nz_c1_fine" x="0" y="0" width="1" height="1" color-interpolation-filters="sRGB"><feTurbulence type="fractalNoise" baseFrequency="0.25" numOctaves="1" seed="28"/><feColorMatrix type="matrix" values="0.5 0 0 0 0.250 0.5 0 0 0 0.250 0.5 0 0 0 0.250 0 0 0 0 1"/></filter>
<filter id="pal_c1" x="0" y="0" width="1" height="1" color-interpolation-filters="sRGB"><feComponentTransfer><feFuncR type="linear" slope="1.0" intercept="-0.025"/><feFuncG type="linear" slope="1.0" intercept="-0.025"/><feFuncB type="linear" slope="1.0" intercept="-0.025"/></feComponentTransfer><feComponentTransfer><feFuncR type="table" tableValues="0.000 0.098 0.216 0.353 0.471 0.569 0.667 0.757 0.855 0.941 1.000"/><feFuncG type="table" tableValues="0.000 0.000 0.016 0.047 0.118 0.275 0.439 0.588 0.725 0.882 1.000"/><feFuncB type="table" tableValues="0.000 0.000 0.000 0.000 0.000 0.020 0.047 0.157 0.392 0.686 0.961"/></feComponentTransfer></filter>
<clipPath id="cp_c1"><rect x="697" y="379.5" width="151.5" height="152.0"/></clipPath>
<filter id="nz_c3_lo" x="0" y="0" width="1" height="1" color-interpolation-filters="sRGB"><feTurbulence type="fractalNoise" baseFrequency="0.035" numOctaves="2" seed="22"/><feColorMatrix type="matrix" values="1.1 0 0 0 -0.130 1.1 0 0 0 -0.130 1.1 0 0 0 -0.130 0 0 0 0 1"/></filter>
<filter id="nz_c3_fine" x="0" y="0" width="1" height="1" color-interpolation-filters="sRGB"><feTurbulence type="fractalNoise" baseFrequency="0.25" numOctaves="1" seed="29"/><feColorMatrix type="matrix" values="0.5 0 0 0 0.250 0.5 0 0 0 0.250 0.5 0 0 0 0.250 0 0 0 0 1"/></filter>
<filter id="pal_c3" x="0" y="0" width="1" height="1" color-interpolation-filters="sRGB"><feComponentTransfer><feFuncR type="linear" slope="1.0" intercept="-0.025"/><feFuncG type="linear" slope="1.0" intercept="-0.025"/><feFuncB type="linear" slope="1.0" intercept="-0.025"/></feComponentTransfer><feComponentTransfer><feFuncR type="table" tableValues="0.000 0.098 0.216 0.353 0.471 0.569 0.667 0.757 0.855 0.941 1.000"/><feFuncG type="table" tableValues="0.000 0.000 0.016 0.047 0.118 0.275 0.439 0.588 0.725 0.882 1.000"/><feFuncB type="table" tableValues="0.000 0.000 0.000 0.000 0.000 0.020 0.047 0.157 0.392 0.686 0.961"/></feComponentTransfer></filter>
<clipPath id="cp_c3"><rect x="696.5" y="539.5" width="152.5" height="152.5"/></clipPath>
<filter id="nz_c2_lo" x="0" y="0" width="1" height="1" color-interpolation-filters="sRGB"><feTurbulence type="fractalNoise" baseFrequency="0.05" numOctaves="2" seed="25"/><feColorMatrix type="matrix" values="1.1 0 0 0 0.000 1.1 0 0 0 0.000 1.1 0 0 0 0.000 0 0 0 0 1"/></filter>
<filter id="nz_c2_hi" x="0" y="0" width="1" height="1" color-interpolation-filters="sRGB"><feTurbulence type="fractalNoise" baseFrequency="0.2 0.24" numOctaves="2" seed="27"/><feColorMatrix type="matrix" values="2.2 0 0 0 -0.550 2.2 0 0 0 -0.550 2.2 0 0 0 -0.550 0 0 0 0 1"/></filter>
<filter id="pal_c2" x="0" y="0" width="1" height="1" color-interpolation-filters="sRGB"><feComponentTransfer><feFuncR type="linear" slope="1.25" intercept="-0.1"/><feFuncG type="linear" slope="1.25" intercept="-0.1"/><feFuncB type="linear" slope="1.25" intercept="-0.1"/></feComponentTransfer><feComponentTransfer><feFuncR type="table" tableValues="0.000 0.098 0.216 0.353 0.471 0.569 0.667 0.757 0.855 0.941 1.000"/><feFuncG type="table" tableValues="0.000 0.000 0.016 0.047 0.118 0.275 0.439 0.588 0.725 0.882 1.000"/><feFuncB type="table" tableValues="0.000 0.000 0.000 0.000 0.000 0.020 0.047 0.157 0.392 0.686 0.961"/></feComponentTransfer></filter>
<clipPath id="cp_c2"><rect x="932.5" y="380" width="153.0" height="151.5"/></clipPath>
<filter id="nz_c4_lo" x="0" y="0" width="1" height="1" color-interpolation-filters="sRGB"><feTurbulence type="fractalNoise" baseFrequency="0.05" numOctaves="2" seed="35"/><feColorMatrix type="matrix" values="1.1 0 0 0 0.000 1.1 0 0 0 0.000 1.1 0 0 0 0.000 0 0 0 0 1"/></filter>
<filter id="nz_c4_hi" x="0" y="0" width="1" height="1" color-interpolation-filters="sRGB"><feTurbulence type="fractalNoise" baseFrequency="0.2 0.24" numOctaves="2" seed="37"/><feColorMatrix type="matrix" values="2.2 0 0 0 -0.550 2.2 0 0 0 -0.550 2.2 0 0 0 -0.550 0 0 0 0 1"/></filter>
<filter id="pal_c4" x="0" y="0" width="1" height="1" color-interpolation-filters="sRGB"><feComponentTransfer><feFuncR type="linear" slope="1.25" intercept="-0.1"/><feFuncG type="linear" slope="1.25" intercept="-0.1"/><feFuncB type="linear" slope="1.25" intercept="-0.1"/></feComponentTransfer><feComponentTransfer><feFuncR type="table" tableValues="0.000 0.098 0.216 0.353 0.471 0.569 0.667 0.757 0.855 0.941 1.000"/><feFuncG type="table" tableValues="0.000 0.000 0.016 0.047 0.118 0.275 0.439 0.588 0.725 0.882 1.000"/><feFuncB type="table" tableValues="0.000 0.000 0.000 0.000 0.000 0.020 0.047 0.157 0.392 0.686 0.961"/></feComponentTransfer></filter>
<clipPath id="cp_c4"><rect x="931.5" y="539.5" width="153.5" height="152.0"/></clipPath>
</defs>
<g clip-path="url(#cp_b1)"><g filter="url(#pal_b1)">
<rect x="695" y="35.5" width="151" height="157.5" fill="rgb(112,112,112)"/>
<rect x="695" y="35.5" width="151" height="157.5" fill="#888" opacity="0.6" filter="url(#nz_b1_lo)"/>
<ellipse cx="723" cy="41.5" rx="18.4" ry="8.049999999999999" transform="rotate(0 723 41.5)" fill="rgb(71,71,71)" fill-opacity="0.85" filter="url(#bl4)"/>
<ellipse cx="773" cy="70" rx="8.049999999999999" ry="25.299999999999997" transform="rotate(-35 773 70)" fill="rgb(71,71,71)" fill-opacity="0.85" filter="url(#bl4)"/>
<ellipse cx="818" cy="99" rx="32.199999999999996" ry="11.5" transform="rotate(10 818 99)" fill="rgb(71,71,71)" fill-opacity="0.85" filter="url(#bl4)"/>
<ellipse cx="787" cy="127" rx="11.5" ry="11.5" transform="rotate(0 787 127)" fill="rgb(84,84,84)" fill-opacity="0.7" filter="url(#bl4)"/>
<ellipse cx="716" cy="89" rx="25.299999999999997" ry="6.8999999999999995" transform="rotate(10 716 89)" fill="rgb(89,89,89)" fill-opacity="0.7" filter="url(#bl4)"/>
<ellipse cx="745" cy="140" rx="25.299999999999997" ry="8.049999999999999" transform="rotate(15 745 140)" fill="rgb(89,89,89)" fill-opacity="0.75" filter="url(#bl4)"/>
<ellipse cx="765" cy="180" rx="31.049999999999997" ry="8.049999999999999" transform="rotate(10 765 180)" fill="rgb(84,84,84)" fill-opacity="0.75" filter="url(#bl4)"/>
<ellipse cx="812" cy="156" rx="14.95" ry="10.35" transform="rotate(20 812 156)" fill="rgb(84,84,84)" fill-opacity="0.75" filter="url(#bl4)"/>
<ellipse cx="701" cy="134" rx="8.049999999999999" ry="14.95" transform="rotate(0 701 134)" fill="rgb(94,94,94)" fill-opacity="0.7" filter="url(#bl4)"/>
<ellipse cx="843" cy="180" rx="9.2" ry="13.799999999999999" transform="rotate(0 843 180)" fill="rgb(84,84,84)" fill-opacity="0.7" filter="url(#bl4)"/>
<ellipse cx="762" cy="111" rx="21.849999999999998" ry="14.95" transform="rotate(30 762 111)" fill="rgb(173,173,173)" fill-opacity="1" filter="url(#bl5)"/>
<ellipse cx="762" cy="111" rx="11.4" ry="7.8" transform="rotate(30 762 111)" fill="rgb(199,199,199)" fill-opacity="0.8" filter="url(#bl3)"/>
<ellipse cx="738" cy="158.5" rx="25.299999999999997" ry="12.649999999999999" transform="rotate(20 738 158.5)" fill="rgb(171,171,171)" fill-opacity="1" filter="url(#bl5)"/>
<ellipse cx="738" cy="158.5" rx="13.2" ry="6.6" transform="rotate(20 738 158.5)" fill="rgb(196,196,196)" fill-opacity="0.8" filter="url(#bl3)"/>
<ellipse cx="829" cy="130" rx="14.95" ry="9.774999999999999" transform="rotate(20 829 130)" fill="rgb(168,168,168)" fill-opacity="1" filter="url(#bl5)"/>
<ellipse cx="829" cy="130" rx="7.8" ry="5.1" transform="rotate(20 829 130)" fill="rgb(194,194,194)" fill-opacity="0.8" filter="url(#bl3)"/>
<ellipse cx="702" cy="78" rx="9.2" ry="13.799999999999999" transform="rotate(0 702 78)" fill="rgb(143,143,143)" fill-opacity="0.9" filter="url(#bl5)"/>
<ellipse cx="702" cy="78" rx="4.8" ry="7.199999999999999" transform="rotate(0 702 78)" fill="rgb(168,168,168)" fill-opacity="0.8" filter="url(#bl3)"/>
<ellipse cx="743.7" cy="62" rx="18.4" ry="8.625" transform="rotate(20 743.7 62)" fill="rgb(138,138,138)" fill-opacity="0.9" filter="url(#bl5)"/>
<ellipse cx="743.7" cy="62" rx="9.6" ry="4.5" transform="rotate(20 743.7 62)" fill="rgb(163,163,163)" fill-opacity="0.8" filter="url(#bl3)"/>
<ellipse cx="801" cy="48" rx="17.25" ry="9.2" transform="rotate(15 801 48)" fill="rgb(143,143,143)" fill-opacity="0.9" filter="url(#bl5)"/>
<ellipse cx="801" cy="48" rx="9.0" ry="4.8" transform="rotate(15 801 48)" fill="rgb(168,168,168)" fill-opacity="0.8" filter="url(#bl3)"/>
<ellipse cx="831.5" cy="59" rx="12.649999999999999" ry="11.5" transform="rotate(20 831.5 59)" fill="rgb(150,150,150)" fill-opacity="0.9" filter="url(#bl5)"/>
<ellipse cx="831.5" cy="59" rx="6.6" ry="6.0" transform="rotate(20 831.5 59)" fill="rgb(176,176,176)" fill-opacity="0.8" filter="url(#bl3)"/>
<ellipse cx="807.6" cy="82.7" rx="10.35" ry="6.8999999999999995" transform="rotate(20 807.6 82.7)" fill="rgb(128,128,128)" fill-opacity="0.8" filter="url(#bl5)"/>
<ellipse cx="807.6" cy="82.7" rx="5.3999999999999995" ry="3.5999999999999996" transform="rotate(20 807.6 82.7)" fill="rgb(153,153,153)" fill-opacity="0.8" filter="url(#bl3)"/>
<ellipse cx="710" cy="106.5" rx="18.4" ry="11.5" transform="rotate(20 710 106.5)" fill="rgb(138,138,138)" fill-opacity="0.9" filter="url(#bl5)"/>
<ellipse cx="710" cy="106.5" rx="9.6" ry="6.0" transform="rotate(20 710 106.5)" fill="rgb(163,163,163)" fill-opacity="0.8" filter="url(#bl3)"/>
<ellipse cx="786" cy="165" rx="17.25" ry="9.2" transform="rotate(20 786 165)" fill="rgb(138,138,138)" fill-opacity="0.9" filter="url(#bl5)"/>
<ellipse cx="786" cy="165" rx="9.0" ry="4.8" transform="rotate(20 786 165)" fill="rgb(163,163,163)" fill-opacity="0.8" filter="url(#bl3)"/>
<ellipse cx="829" cy="173.6" rx="14.95" ry="9.2" transform="rotate(20 829 173.6)" fill="rgb(128,128,128)" fill-opacity="0.85" filter="url(#bl5)"/>
<ellipse cx="829" cy="173.6" rx="7.8" ry="4.8" transform="rotate(20 829 173.6)" fill="rgb(153,153,153)" fill-opacity="0.8" filter="url(#bl3)"/>
<ellipse cx="702" cy="181" rx="9.2" ry="13.799999999999999" transform="rotate(0 702 181)" fill="rgb(143,143,143)" fill-opacity="0.9" filter="url(#bl5)"/>
<ellipse cx="702" cy="181" rx="4.8" ry="7.199999999999999" transform="rotate(0 702 181)" fill="rgb(168,168,168)" fill-opacity="0.8" filter="url(#bl3)"/>
<ellipse cx="789" cy="144" rx="9.2" ry="6.8999999999999995" transform="rotate(20 789 144)" fill="rgb(125,125,125)" fill-opacity="0.8" filter="url(#bl5)"/>
<ellipse cx="789" cy="144" rx="4.8" ry="3.5999999999999996" transform="rotate(20 789 144)" fill="rgb(150,150,150)" fill-opacity="0.8" filter="url(#bl3)"/>
</g></g>
<rect x="695" y="35.5" width="151" height="157.5" fill="none" stroke="#222" stroke-width="1"/>
<g clip-path="url(#cp_b3)"><g filter="url(#pal_b3)">
<rect x="694" y="199" width="152.5" height="158" fill="rgb(112,112,112)"/>
<rect x="694" y="199" width="152.5" height="158" fill="#888" opacity="0.6" filter="url(#nz_b3_lo)"/>
<ellipse cx="772" cy="235" rx="8.049999999999999" ry="27.599999999999998" transform="rotate(-35 772 235)" fill="rgb(71,71,71)" fill-opacity="0.85" filter="url(#bl4)"/>
<ellipse cx="819.7" cy="274.9" rx="31.049999999999997" ry="12.649999999999999" transform="rotate(10 819.7 274.9)" fill="rgb(69,69,69)" fill-opacity="0.85" filter="url(#bl4)"/>
<ellipse cx="761" cy="307.5" rx="27.599999999999998" ry="6.8999999999999995" transform="rotate(10 761 307.5)" fill="rgb(94,94,94)" fill-opacity="0.75" filter="url(#bl4)"/>
<ellipse cx="764" cy="352" rx="43.699999999999996" ry="6.8999999999999995" transform="rotate(0 764 352)" fill="rgb(89,89,89)" fill-opacity="0.75" filter="url(#bl4)"/>
<ellipse cx="808" cy="318.5" rx="18.4" ry="6.8999999999999995" transform="rotate(15 808 318.5)" fill="rgb(89,89,89)" fill-opacity="0.75" filter="url(#bl4)"/>
<ellipse cx="705" cy="303" rx="12.649999999999999" ry="10.35" transform="rotate(0 705 303)" fill="rgb(94,94,94)" fill-opacity="0.7" filter="url(#bl4)"/>
<ellipse cx="731" cy="260.5" rx="17.25" ry="8.049999999999999" transform="rotate(15 731 260.5)" fill="rgb(94,94,94)" fill-opacity="0.7" filter="url(#bl4)"/>
<ellipse cx="702" cy="220" rx="10.35" ry="8.049999999999999" transform="rotate(0 702 220)" fill="rgb(89,89,89)" fill-opacity="0.7" filter="url(#bl4)"/>
<ellipse cx="765.5" cy="279" rx="21.849999999999998" ry="16.099999999999998" transform="rotate(25 765.5 279)" fill="rgb(168,168,168)" fill-opacity="1" filter="url(#bl5)"/>
<ellipse cx="765.5" cy="279" rx="11.4" ry="8.4" transform="rotate(25 765.5 279)" fill="rgb(194,194,194)" fill-opacity="0.8" filter="url(#bl3)"/>
<ellipse cx="724" cy="316" rx="18.4" ry="10.35" transform="rotate(20 724 316)" fill="rgb(158,158,158)" fill-opacity="1" filter="url(#bl5)"/>
<ellipse cx="724" cy="316" rx="9.6" ry="5.3999999999999995" transform="rotate(20 724 316)" fill="rgb(184,184,184)" fill-opacity="0.8" filter="url(#bl3)"/>
<ellipse cx="750" cy="325" rx="18.4" ry="10.35" transform="rotate(20 750 325)" fill="rgb(163,163,163)" fill-opacity="1" filter="url(#bl5)"/>
<ellipse cx="750" cy="325" rx="9.6" ry="5.3999999999999995" transform="rotate(20 750 325)" fill="rgb(189,189,189)" fill-opacity="0.8" filter="url(#bl3)"/>
<ellipse cx="707" cy="348.5" rx="16.099999999999998" ry="10.35" transform="rotate(10 707 348.5)" fill="rgb(150,150,150)" fill-opacity="0.9" filter="url(#bl5)"/>
<ellipse cx="707" cy="348.5" rx="8.4" ry="5.3999999999999995" transform="rotate(10 707 348.5)" fill="rgb(176,176,176)" fill-opacity="0.8" filter="url(#bl3)"/>
<ellipse cx="828.4" cy="298.7" rx="20.7" ry="9.2" transform="rotate(15 828.4 298.7)" fill="rgb(153,153,153)" fill-opacity="0.9" filter="url(#bl5)"/>
<ellipse cx="828.4" cy="298.7" rx="10.799999999999999" ry="4.8" transform="rotate(15 828.4 298.7)" fill="rgb(179,179,179)" fill-opacity="0.8" filter="url(#bl3)"/>
<ellipse cx="704.8" cy="248.8" rx="11.5" ry="13.799999999999999" transform="rotate(0 704.8 248.8)" fill="rgb(143,143,143)" fill-opacity="0.9" filter="url(#bl5)"/>
<ellipse cx="704.8" cy="248.8" rx="6.0" ry="7.199999999999999" transform="rotate(0 704.8 248.8)" fill="rgb(168,168,168)" fill-opacity="0.8" filter="url(#bl3)"/>
<ellipse cx="796" cy="227" rx="20.7" ry="12.649999999999999" transform="rotate(15 796 227)" fill="rgb(138,138,138)" fill-opacity="0.9" filter="url(#bl5)"/>
<ellipse cx="796" cy="227" rx="10.799999999999999" ry="6.6" transform="rotate(15 796 227)" fill="rgb(163,163,163)" fill-opacity="0.8" filter="url(#bl3)"/>
<ellipse cx="837" cy="227" rx="10.35" ry="14.95" transform="rotate(0 837 227)" fill="rgb(153,153,153)" fill-opacity="0.9" filter="url(#bl5)"/>
<ellipse cx="837" cy="227" rx="5.3999999999999995" ry="7.8" transform="rotate(0 837 227)" fill="rgb(179,179,179)" fill-opacity="0.8" filter="url(#bl3)"/>
<ellipse cx="730.8" cy="233.7" rx="17.25" ry="9.2" transform="rotate(15 730.8 233.7)" fill="rgb(133,133,133)" fill-opacity="0.85" filter="url(#bl5)"/>
<ellipse cx="730.8" cy="233.7" rx="9.0" ry="4.8" transform="rotate(15 730.8 233.7)" fill="rgb(158,158,158)" fill-opacity="0.8" filter="url(#bl3)"/>
<ellipse cx="711" cy="279" rx="18.4" ry="11.5" transform="rotate(15 711 279)" fill="rgb(133,133,133)" fill-opacity="0.85" filter="url(#bl5)"/>
<ellipse cx="711" cy="279" rx="9.6" ry="6.0" transform="rotate(15 711 279)" fill="rgb(158,158,158)" fill-opacity="0.8" filter="url(#bl3)"/>
<ellipse cx="772" cy="340" rx="19.549999999999997" ry="11.5" transform="rotate(15 772 340)" fill="rgb(138,138,138)" fill-opacity="0.9" filter="url(#bl5)"/>
<ellipse cx="772" cy="340" rx="10.2" ry="6.0" transform="rotate(15 772 340)" fill="rgb(163,163,163)" fill-opacity="0.8" filter="url(#bl3)"/>
<ellipse cx="815" cy="333" rx="17.25" ry="10.35" transform="rotate(15 815 333)" fill="rgb(125,125,125)" fill-opacity="0.85" filter="url(#bl5)"/>
<ellipse cx="815" cy="333" rx="9.0" ry="5.3999999999999995" transform="rotate(15 815 333)" fill="rgb(150,150,150)" fill-opacity="0.8" filter="url(#bl3)"/>
<ellipse cx="811" cy="247.8" rx="13.799999999999999" ry="8.049999999999999" transform="rotate(15 811 247.8)" fill="rgb(125,125,125)" fill-opacity="0.8" filter="url(#bl5)"/>
<ellipse cx="811" cy="247.8" rx="7.199999999999999" ry="4.2" transform="rotate(15 811 247.8)" fill="rgb(150,150,150)" fill-opacity="0.8" filter="url(#bl3)"/>
</g></g>
<rect x="694" y="199" width="152.5" height="158" fill="none" stroke="#222" stroke-width="1"/>
<g clip-path="url(#cp_b2)"><g filter="url(#pal_b2)">
<rect x="930.5" y="35.5" width="151.5" height="157.5" fill="rgb(128,128,128)"/>
<rect x="930.5" y="35.5" width="151.5" height="157.5" fill="#888" filter="url(#nz_b2_lo)"/>
<ellipse cx="944" cy="51" rx="9" ry="8" transform="rotate(0 944 51)" fill="rgb(219,219,219)" fill-opacity="0.9" filter="url(#bl4)"/>
<ellipse cx="1031" cy="72" rx="24" ry="13" transform="rotate(-30 1031 72)" fill="rgb(219,219,219)" fill-opacity="0.95" filter="url(#bl5)"/>
<ellipse cx="1044" cy="106" rx="19" ry="19" transform="rotate(0 1044 106)" fill="rgb(219,219,219)" fill-opacity="0.95" filter="url(#bl5)"/>
<ellipse cx="1027" cy="137" rx="9" ry="13" transform="rotate(0 1027 137)" fill="rgb(219,219,219)" fill-opacity="0.9" filter="url(#bl4)"/>
<ellipse cx="954" cy="90" rx="16" ry="9" transform="rotate(0 954 90)" fill="rgb(217,217,217)" fill-opacity="0.85" filter="url(#bl4)"/>
<ellipse cx="961" cy="111" rx="15" ry="14" transform="rotate(0 961 111)" fill="rgb(219,219,219)" fill-opacity="0.9" filter="url(#bl4)"/>
<ellipse cx="1066" cy="70" rx="15" ry="7" transform="rotate(0 1066 70)" fill="rgb(204,204,204)" fill-opacity="0.8" filter="url(#bl4)"/>
<ellipse cx="968" cy="148" rx="10" ry="10" transform="rotate(0 968 148)" fill="rgb(191,191,191)" fill-opacity="0.7" filter="url(#bl4)"/>
<ellipse cx="950" cy="44" rx="10" ry="8" transform="rotate(0 950 44)" fill="rgb(26,26,26)" fill-opacity="0.9" filter="url(#bl4)"/>
<ellipse cx="1064" cy="49" rx="18" ry="11" transform="rotate(0 1064 49)" fill="rgb(26,26,26)" fill-opacity="0.95" filter="url(#bl4)"/>
<ellipse cx="1071" cy="121" rx="11" ry="7" transform="rotate(0 1071 121)" fill="rgb(26,26,26)" fill-opacity="0.95" filter="url(#bl4)"/>
<ellipse cx="942" cy="152" rx="11" ry="12" transform="rotate(0 942 152)" fill="rgb(26,26,26)" fill-opacity="0.95" filter="url(#bl4)"/>
<ellipse cx="1004" cy="116" rx="23" ry="21" transform="rotate(0 1004 116)" fill="rgb(20,20,20)" fill-opacity="0.95" filter="url(#bl4)"/>
<ellipse cx="991" cy="73" rx="10" ry="15" transform="rotate(0 991 73)" fill="rgb(64,64,64)" fill-opacity="0.8" filter="url(#bl4)"/>
<ellipse cx="1054" cy="146" rx="12" ry="11" transform="rotate(0 1054 146)" fill="rgb(64,64,64)" fill-opacity="0.8" filter="url(#bl4)"/>
<ellipse cx="985" cy="180" rx="15" ry="9" transform="rotate(0 985 180)" fill="rgb(71,71,71)" fill-opacity="0.7" filter="url(#bl5)"/>
<ellipse cx="1000" cy="160" rx="10" ry="8" transform="rotate(0 1000 160)" fill="rgb(76,76,76)" fill-opacity="0.6" filter="url(#bl4)"/>
<ellipse cx="1078" cy="170" rx="8" ry="12" transform="rotate(0 1078 170)" fill="rgb(64,64,64)" fill-opacity="0.7" filter="url(#bl4)"/>
<rect x="930.5" y="35.5" width="151.5" height="157.5" fill="#888" opacity="0.4" filter="url(#nz_b2_hi)"/>
<ellipse cx="1004" cy="116" rx="16" ry="15" transform="rotate(0 1004 116)" fill="rgb(15,15,15)" fill-opacity="0.4" filter="url(#bl4)"/>
<ellipse cx="950" cy="44" rx="6" ry="5" transform="rotate(0 950 44)" fill="rgb(26,26,26)" fill-opacity="0.4" filter="url(#bl3)"/>
<ellipse cx="1064" cy="49" rx="12" ry="7" transform="rotate(0 1064 49)" fill="rgb(26,26,26)" fill-opacity="0.4" filter="url(#bl3)"/>
</g></g>
<rect x="930.5" y="35.5" width="151.5" height="157.5" fill="none" stroke="#222" stroke-width="1"/>
<g clip-path="url(#cp_b4)"><g filter="url(#pal_b4)">
<rect x="931" y="200" width="151.5" height="157" fill="rgb(128,128,128)"/>
<rect x="931" y="200" width="151.5" height="157" fill="#888" filter="url(#nz_b4_lo)"/>
<ellipse cx="961" cy="247" rx="15" ry="15" transform="rotate(0 961 247)" fill="rgb(219,219,219)" fill-opacity="0.95" filter="url(#bl5)"/>
<ellipse cx="1013" cy="212" rx="15" ry="13" transform="rotate(0 1013 212)" fill="rgb(219,219,219)" fill-opacity="0.95" filter="url(#bl5)"/>
<ellipse cx="1052" cy="232" rx="19" ry="16" transform="rotate(0 1052 232)" fill="rgb(219,219,219)" fill-opacity="0.95" filter="url(#bl5)"/>
<ellipse cx="1038" cy="261" rx="15" ry="10" transform="rotate(0 1038 261)" fill="rgb(217,217,217)" fill-opacity="0.8" filter="url(#bl4)"/>
<ellipse cx="976" cy="320" rx="18" ry="8" transform="rotate(0 976 320)" fill="rgb(219,219,219)" fill-opacity="0.9" filter="url(#bl4)"/>
<ellipse cx="1030" cy="313" rx="14" ry="10" transform="rotate(0 1030 313)" fill="rgb(219,219,219)" fill-opacity="0.9" filter="url(#bl4)"/>
<ellipse cx="1005" cy="284" rx="15" ry="12" transform="rotate(0 1005 284)" fill="rgb(217,217,217)" fill-opacity="0.8" filter="url(#bl4)"/>
<ellipse cx="941" cy="275" rx="8" ry="7" transform="rotate(0 941 275)" fill="rgb(217,217,217)" fill-opacity="0.7" filter="url(#bl3)"/>
<ellipse cx="949" cy="206" rx="11" ry="8" transform="rotate(0 949 206)" fill="rgb(26,26,26)" fill-opacity="0.95" filter="url(#bl4)"/>
<ellipse cx="983" cy="238" rx="15" ry="15" transform="rotate(0 983 238)" fill="rgb(31,31,31)" fill-opacity="0.9" filter="url(#bl5)"/>
<ellipse cx="1068" cy="214" rx="14" ry="9" transform="rotate(0 1068 214)" fill="rgb(26,26,26)" fill-opacity="0.95" filter="url(#bl4)"/>
<ellipse cx="941" cy="307" rx="10" ry="16" transform="rotate(0 941 307)" fill="rgb(26,26,26)" fill-opacity="0.95" filter="url(#bl4)"/>
<ellipse cx="993" cy="308" rx="12" ry="8" transform="rotate(0 993 308)" fill="rgb(31,31,31)" fill-opacity="0.9" filter="url(#bl4)"/>
<ellipse cx="1066" cy="272" rx="16" ry="10" transform="rotate(0 1066 272)" fill="rgb(64,64,64)" fill-opacity="0.8" filter="url(#bl4)"/>
<ellipse cx="1071" cy="310" rx="11" ry="12" transform="rotate(0 1071 310)" fill="rgb(56,56,56)" fill-opacity="0.8" filter="url(#bl4)"/>
<ellipse cx="955" cy="345" rx="10" ry="6" transform="rotate(0 955 345)" fill="rgb(64,64,64)" fill-opacity="0.7" filter="url(#bl4)"/>
<rect x="931" y="200" width="151.5" height="157" fill="#888" opacity="0.4" filter="url(#nz_b4_hi)"/>
</g></g>
<rect x="931" y="200" width="151.5" height="157" fill="none" stroke="#222" stroke-width="1"/>
<g clip-path="url(#cp_c1)"><g filter="url(#pal_c1)">
<rect x="697" y="379.5" width="151.5" height="152.0" fill="rgb(92,92,92)"/>
<rect x="697" y="379.5" width="151.5" height="152.0" fill="#888" opacity="0.75" filter="url(#nz_c1_lo)"/>
<circle cx="687.1" cy="374.5" r="8.5" fill="url(#grain)" fill-opacity="0.31"/>
<circle cx="701.1" cy="375.5" r="9.0" fill="url(#grain)" fill-opacity="0.31"/>
<circle cx="717.3" cy="370.3" r="6.8" fill="url(#grain)" fill-opacity="0.28"/>
<circle cx="731.6" cy="368.7" r="8.9" fill="url(#grain)" fill-opacity="0.25"/>
<circle cx="741.7" cy="368.4" r="9.5" fill="url(#grain)" fill-opacity="0.36"/>
<circle cx="761.3" cy="373.8" r="6.9" fill="url(#grain)" fill-opacity="0.27"/>
<circle cx="771.2" cy="369.1" r="9.4" fill="url(#grain)" fill-opacity="0.28"/>
<circle cx="781.5" cy="375.8" r="7.1" fill="url(#grain)" fill-opacity="0.40"/>
<circle cx="797.8" cy="373.2" r="7.7" fill="url(#grain)" fill-opacity="0.31"/>
<circle cx="808.8" cy="368.4" r="9.1" fill="url(#grain)" fill-opacity="0.25"/>
<circle cx="827.9" cy="370.0" r="9.4" fill="url(#grain)" fill-opacity="0.40"/>
<circle cx="841.2" cy="375.2" r="8.4" fill="url(#grain)" fill-opacity="0.36"/>
<circle cx="848.7" cy="372.5" r="9.0" fill="url(#grain)" fill-opacity="0.24"/>
<circle cx="701.0" cy="388.2" r="7.9" fill="url(#grain)" fill-opacity="0.28"/>
<circle cx="710.0" cy="383.4" r="9.5" fill="url(#grain)" fill-opacity="0.29"/>
<circle cx="719.5" cy="380.7" r="8.7" fill="url(#grain)" fill-opacity="0.42"/>
<circle cx="737.5" cy="384.4" r="8.3" fill="url(#grain)" fill-opacity="0.36"/>
<circle cx="748.4" cy="385.5" r="8.3" fill="url(#grain)" fill-opacity="0.34"/>
<circle cx="761.5" cy="381.4" r="7.7" fill="url(#grain)" fill-opacity="0.40"/>
<circle cx="776.6" cy="385.4" r="7.6" fill="url(#grain)" fill-opacity="0.22"/>
<circle cx="787.4" cy="387.5" r="8.9" fill="url(#grain)" fill-opacity="0.28"/>
<circle cx="806.7" cy="386.2" r="9.2" fill="url(#grain)" fill-opacity="0.41"/>
<circle cx="817.6" cy="389.1" r="9.4" fill="url(#grain)" fill-opacity="0.33"/>
<circle cx="835.6" cy="384.4" r="7.8" fill="url(#grain)" fill-opacity="0.25"/>
<circle cx="849.1" cy="381.3" r="7.0" fill="url(#grain)" fill-opacity="0.38"/>
<circle cx="861.6" cy="384.3" r="9.1" fill="url(#grain)" fill-opacity="0.21"/>
<circle cx="688.0" cy="394.3" r="7.9" fill="url(#grain)" fill-opacity="0.24"/>
<circle cx="699.7" cy="394.7" r="9.2" fill="url(#grain)" fill-opacity="0.42"/>
<circle cx="719.6" cy="396.0" r="7.5" fill="url(#grain)" fill-opacity="0.41"/>
<circle cx="731.0" cy="398.4" r="6.9" fill="url(#grain)" fill-opacity="0.25"/>
<circle cx="747.4" cy="399.0" r="9.2" fill="url(#grain)" fill-opacity="0.33"/>
<circle cx="757.1" cy="397.0" r="9.1" fill="url(#grain)" fill-opacity="0.27"/>
<circle cx="771.6" cy="394.1" r="8.9" fill="url(#grain)" fill-opacity="0.20"/>
<circle cx="786.5" cy="400.5" r="6.9" fill="url(#grain)" fill-opacity="0.33"/>
<circle cx="799.6" cy="399.6" r="8.4" fill="url(#grain)" fill-opacity="0.26"/>
<circle cx="810.9" cy="400.6" r="9.2" fill="url(#grain)" fill-opacity="0.23"/>
<circle cx="821.4" cy="392.4" r="6.9" fill="url(#grain)" fill-opacity="0.30"/>
<circle cx="835.4" cy="399.7" r="8.6" fill="url(#grain)" fill-opacity="0.23"/>
<circle cx="852.6" cy="394.6" r="8.1" fill="url(#grain)" fill-opacity="0.25"/>
<circle cx="693.8" cy="405.0" r="7.8" fill="url(#grain)" fill-opacity="0.36"/>
<circle cx="711.0" cy="403.7" r="8.7" fill="url(#grain)" fill-opacity="0.39"/>
<circle cx="726.6" cy="410.7" r="6.8" fill="url(#grain)" fill-opacity="0.30"/>
<circle cx="733.4" cy="410.5" r="7.3" fill="url(#grain)" fill-opacity="0.36"/>
<circle cx="748.7" cy="409.8" r="7.6" fill="url(#grain)" fill-opacity="0.21"/>
<circle cx="763.4" cy="406.2" r="9.2" fill="url(#grain)" fill-opacity="0.26"/>
<circle cx="778.0" cy="408.5" r="9.4" fill="url(#grain)" fill-opacity="0.22"/>
<circle cx="792.5" cy="408.1" r="8.8" fill="url(#grain)" fill-opacity="0.41"/>
<circle cx="803.2" cy="409.9" r="8.2" fill="url(#grain)" fill-opacity="0.32"/>
<circle cx="814.4" cy="411.0" r="9.4" fill="url(#grain)" fill-opacity="0.28"/>
<circle cx="830.3" cy="412.6" r="7.1" fill="url(#grain)" fill-opacity="0.22"/>
<circle cx="841.5" cy="411.0" r="8.9" fill="url(#grain)" fill-opacity="0.30"/>
<circle cx="860.1" cy="403.4" r="8.5" fill="url(#grain)" fill-opacity="0.30"/>
<circle cx="690.4" cy="418.7" r="7.9" fill="url(#grain)" fill-opacity="0.25"/>
<circle cx="699.5" cy="419.1" r="7.5" fill="url(#grain)" fill-opacity="0.35"/>
<circle cx="720.2" cy="421.8" r="8.0" fill="url(#grain)" fill-opacity="0.25"/>
<circle cx="729.7" cy="419.6" r="8.5" fill="url(#grain)" fill-opacity="0.41"/>
<circle cx="740.3" cy="419.5" r="8.1" fill="url(#grain)" fill-opacity="0.36"/>
<circle cx="761.4" cy="422.4" r="8.5" fill="url(#grain)" fill-opacity="0.37"/>
<circle cx="772.8" cy="423.1" r="8.7" fill="url(#grain)" fill-opacity="0.35"/>
<circle cx="782.3" cy="423.7" r="7.8" fill="url(#grain)" fill-opacity="0.34"/>
<circle cx="801.3" cy="424.1" r="9.5" fill="url(#grain)" fill-opacity="0.20"/>
<circle cx="810.0" cy="418.0" r="7.9" fill="url(#grain)" fill-opacity="0.23"/>
<circle cx="825.8" cy="415.8" r="7.6" fill="url(#grain)" fill-opacity="0.41"/>
<circle cx="841.0" cy="419.4" r="7.1" fill="url(#grain)" fill-opacity="0.41"/>
<circle cx="854.2" cy="416.9" r="7.7" fill="url(#grain)" fill-opacity="0.34"/>
<circle cx="698.7" cy="429.2" r="9.4" fill="url(#grain)" fill-opacity="0.27"/>
<circle cx="708.2" cy="434.7" r="7.2" fill="url(#grain)" fill-opacity="0.35"/>
<circle cx="721.2" cy="432.4" r="7.5" fill="url(#grain)" fill-opacity="0.28"/>
<circle cx="741.7" cy="431.2" r="8.0" fill="url(#grain)" fill-opacity="0.34"/>
<circle cx="748.9" cy="428.4" r="7.8" fill="url(#grain)" fill-opacity="0.26"/>
<circle cx="761.6" cy="435.8" r="6.9" fill="url(#grain)" fill-opacity="0.38"/>
<circle cx="782.1" cy="433.4" r="6.9" fill="url(#grain)" fill-opacity="0.31"/>
<circle cx="787.1" cy="432.5" r="8.7" fill="url(#grain)" fill-opacity="0.25"/>
<circle cx="800.3" cy="431.9" r="7.1" fill="url(#grain)" fill-opacity="0.27"/>
<circle cx="818.1" cy="435.2" r="7.8" fill="url(#grain)" fill-opacity="0.23"/>
<circle cx="834.8" cy="434.5" r="8.2" fill="url(#grain)" fill-opacity="0.21"/>
<circle cx="842.5" cy="430.6" r="8.3" fill="url(#grain)" fill-opacity="0.25"/>
<circle cx="861.9" cy="434.7" r="9.3" fill="url(#grain)" fill-opacity="0.39"/>
<circle cx="685.7" cy="444.0" r="7.0" fill="url(#grain)" fill-opacity="0.40"/>
<circle cx="706.1" cy="445.7" r="7.3" fill="url(#grain)" fill-opacity="0.21"/>
<circle cx="720.2" cy="444.2" r="8.5" fill="url(#grain)" fill-opacity="0.30"/>
<circle cx="733.6" cy="441.7" r="7.5" fill="url(#grain)" fill-opacity="0.28"/>
<circle cx="742.3" cy="444.4" r="9.2" fill="url(#grain)" fill-opacity="0.22"/>
<circle cx="753.7" cy="443.3" r="8.6" fill="url(#grain)" fill-opacity="0.24"/>
<circle cx="769.1" cy="439.1" r="6.9" fill="url(#grain)" fill-opacity="0.31"/>
<circle cx="786.5" cy="444.7" r="7.2" fill="url(#grain)" fill-opacity="0.22"/>
<circle cx="802.3" cy="443.6" r="7.9" fill="url(#grain)" fill-opacity="0.35"/>
<circle cx="813.9" cy="443.5" r="7.0" fill="url(#grain)" fill-opacity="0.38"/>
<circle cx="822.5" cy="438.9" r="7.8" fill="url(#grain)" fill-opacity="0.32"/>
<circle cx="840.0" cy="440.1" r="8.7" fill="url(#grain)" fill-opacity="0.31"/>
<circle cx="849.1" cy="446.5" r="9.0" fill="url(#grain)" fill-opacity="0.40"/>
<circle cx="698.7" cy="452.3" r="8.9" fill="url(#grain)" fill-opacity="0.40"/>
<circle cx="710.8" cy="458.8" r="9.4" fill="url(#grain)" fill-opacity="0.29"/>
<circle cx="728.2" cy="459.1" r="8.9" fill="url(#grain)" fill-opacity="0.20"/>
<circle cx="736.1" cy="456.0" r="8.4" fill="url(#grain)" fill-opacity="0.37"/>
<circle cx="752.4" cy="451.8" r="9.3" fill="url(#grain)" fill-opacity="0.32"/>
<circle cx="768.1" cy="452.2" r="9.5" fill="url(#grain)" fill-opacity="0.32"/>
<circle cx="780.6" cy="457.2" r="9.2" fill="url(#grain)" fill-opacity="0.28"/>
<circle cx="787.6" cy="454.1" r="7.3" fill="url(#grain)" fill-opacity="0.32"/>
<circle cx="808.0" cy="453.7" r="7.2" fill="url(#grain)" fill-opacity="0.21"/>
<circle cx="817.8" cy="455.7" r="6.9" fill="url(#grain)" fill-opacity="0.35"/>
<circle cx="829.3" cy="451.3" r="9.3" fill="url(#grain)" fill-opacity="0.32"/>
<circle cx="849.2" cy="455.1" r="7.1" fill="url(#grain)" fill-opacity="0.25"/>
<circle cx="858.3" cy="456.3" r="8.9" fill="url(#grain)" fill-opacity="0.37"/>
<circle cx="691.7" cy="464.4" r="8.0" fill="url(#grain)" fill-opacity="0.28"/>
<circle cx="703.7" cy="464.5" r="8.3" fill="url(#grain)" fill-opacity="0.30"/>
<circle cx="712.9" cy="469.8" r="8.4" fill="url(#grain)" fill-opacity="0.38"/>
<circle cx="733.0" cy="468.9" r="9.5" fill="url(#grain)" fill-opacity="0.28"/>
<circle cx="743.2" cy="462.0" r="8.6" fill="url(#grain)" fill-opacity="0.33"/>
<circle cx="758.5" cy="471.4" r="7.3" fill="url(#grain)" fill-opacity="0.25"/>
<circle cx="773.5" cy="469.7" r="8.1" fill="url(#grain)" fill-opacity="0.21"/>
<circle cx="783.5" cy="469.8" r="8.1" fill="url(#grain)" fill-opacity="0.30"/>
<circle cx="797.2" cy="467.9" r="8.4" fill="url(#grain)" fill-opacity="0.35"/>
<circle cx="815.2" cy="469.1" r="7.8" fill="url(#grain)" fill-opacity="0.26"/>
<circle cx="827.9" cy="469.5" r="9.3" fill="url(#grain)" fill-opacity="0.24"/>
<circle cx="842.0" cy="470.4" r="7.0" fill="url(#grain)" fill-opacity="0.27"/>
<circle cx="853.5" cy="463.4" r="9.0" fill="url(#grain)" fill-opacity="0.26"/>
<circle cx="698.7" cy="476.5" r="7.4" fill="url(#grain)" fill-opacity="0.25"/>
<circle cx="710.5" cy="480.5" r="7.4" fill="url(#grain)" fill-opacity="0.35"/>
<circle cx="722.4" cy="479.9" r="7.8" fill="url(#grain)" fill-opacity="0.24"/>
<circle cx="734.1" cy="474.3" r="8.7" fill="url(#grain)" fill-opacity="0.29"/>
<circle cx="747.4" cy="482.1" r="8.6" fill="url(#grain)" fill-opacity="0.20"/>
<circle cx="766.6" cy="479.3" r="8.0" fill="url(#grain)" fill-opacity="0.31"/>
<circle cx="782.4" cy="477.3" r="8.5" fill="url(#grain)" fill-opacity="0.34"/>
<circle cx="790.2" cy="477.0" r="8.8" fill="url(#grain)" fill-opacity="0.34"/>
<circle cx="804.6" cy="478.6" r="7.4" fill="url(#grain)" fill-opacity="0.37"/>
<circle cx="814.0" cy="479.8" r="8.0" fill="url(#grain)" fill-opacity="0.25"/>
<circle cx="832.8" cy="479.2" r="7.0" fill="url(#grain)" fill-opacity="0.31"/>
<circle cx="842.3" cy="481.3" r="7.7" fill="url(#grain)" fill-opacity="0.27"/>
<circle cx="856.3" cy="474.2" r="7.3" fill="url(#grain)" fill-opacity="0.23"/>
<circle cx="691.4" cy="493.5" r="7.4" fill="url(#grain)" fill-opacity="0.22"/>
<circle cx="704.1" cy="486.6" r="7.9" fill="url(#grain)" fill-opacity="0.37"/>
<circle cx="714.4" cy="492.1" r="8.3" fill="url(#grain)" fill-opacity="0.22"/>
<circle cx="728.3" cy="491.1" r="7.1" fill="url(#grain)" fill-opacity="0.24"/>
<circle cx="745.0" cy="493.2" r="8.2" fill="url(#grain)" fill-opacity="0.35"/>
<circle cx="753.1" cy="488.3" r="7.7" fill="url(#grain)" fill-opacity="0.40"/>
<circle cx="769.9" cy="492.9" r="6.9" fill="url(#grain)" fill-opacity="0.31"/>
<circle cx="788.4" cy="492.8" r="8.4" fill="url(#grain)" fill-opacity="0.24"/>
<circle cx="802.3" cy="486.2" r="9.4" fill="url(#grain)" fill-opacity="0.37"/>
<circle cx="813.8" cy="490.5" r="7.2" fill="url(#grain)" fill-opacity="0.27"/>
<circle cx="826.8" cy="491.7" r="7.9" fill="url(#grain)" fill-opacity="0.38"/>
<circle cx="834.5" cy="488.2" r="7.0" fill="url(#grain)" fill-opacity="0.27"/>
<circle cx="855.0" cy="492.6" r="7.2" fill="url(#grain)" fill-opacity="0.27"/>
<circle cx="693.3" cy="503.5" r="8.0" fill="url(#grain)" fill-opacity="0.25"/>
<circle cx="709.3" cy="505.4" r="7.9" fill="url(#grain)" fill-opacity="0.35"/>
<circle cx="725.2" cy="501.7" r="8.3" fill="url(#grain)" fill-opacity="0.28"/>
<circle cx="734.6" cy="501.9" r="7.6" fill="url(#grain)" fill-opacity="0.27"/>
<circle cx="748.0" cy="505.9" r="7.9" fill="url(#grain)" fill-opacity="0.24"/>
<circle cx="760.1" cy="499.2" r="9.1" fill="url(#grain)" fill-opacity="0.27"/>
<circle cx="779.6" cy="499.4" r="8.6" fill="url(#grain)" fill-opacity="0.30"/>
<circle cx="793.7" cy="502.2" r="7.8" fill="url(#grain)" fill-opacity="0.26"/>
<circle cx="805.9" cy="505.1" r="8.7" fill="url(#grain)" fill-opacity="0.31"/>
<circle cx="816.9" cy="505.6" r="9.1" fill="url(#grain)" fill-opacity="0.23"/>
<circle cx="833.7" cy="504.5" r="8.6" fill="url(#grain)" fill-opacity="0.41"/>
<circle cx="849.1" cy="499.5" r="9.5" fill="url(#grain)" fill-opacity="0.27"/>
<circle cx="857.9" cy="506.4" r="7.3" fill="url(#grain)" fill-opacity="0.29"/>
<circle cx="691.4" cy="511.5" r="7.5" fill="url(#grain)" fill-opacity="0.37"/>
<circle cx="704.8" cy="516.0" r="8.9" fill="url(#grain)" fill-opacity="0.39"/>
<circle cx="721.0" cy="516.7" r="9.4" fill="url(#grain)" fill-opacity="0.31"/>
<circle cx="732.7" cy="513.8" r="9.4" fill="url(#grain)" fill-opacity="0.34"/>
<circle cx="743.6" cy="515.2" r="7.6" fill="url(#grain)" fill-opacity="0.23"/>
<circle cx="756.7" cy="510.3" r="6.8" fill="url(#grain)" fill-opacity="0.22"/>
<circle cx="770.8" cy="516.2" r="6.9" fill="url(#grain)" fill-opacity="0.34"/>
<circle cx="781.1" cy="513.8" r="7.6" fill="url(#grain)" fill-opacity="0.30"/>
<circle cx="800.3" cy="512.9" r="7.9" fill="url(#grain)" fill-opacity="0.36"/>
<circle cx="808.1" cy="512.3" r="8.7" fill="url(#grain)" fill-opacity="0.38"/>
<circle cx="829.8" cy="511.4" r="8.5" fill="url(#grain)" fill-opacity="0.27"/>
<circle cx="840.7" cy="517.0" r="7.2" fill="url(#grain)" fill-opacity="0.28"/>
<circle cx="856.4" cy="512.3" r="8.5" fill="url(#grain)" fill-opacity="0.38"/>
<circle cx="694.9" cy="528.1" r="6.8" fill="url(#grain)" fill-opacity="0.27"/>
<circle cx="707.4" cy="524.0" r="7.4" fill="url(#grain)" fill-opacity="0.21"/>
<circle cx="726.9" cy="522.3" r="8.3" fill="url(#grain)" fill-opacity="0.32"/>
<circle cx="740.8" cy="528.7" r="8.5" fill="url(#grain)" fill-opacity="0.24"/>
<circle cx="753.5" cy="521.6" r="9.3" fill="url(#grain)" fill-opacity="0.27"/>
<circle cx="762.2" cy="522.8" r="7.9" fill="url(#grain)" fill-opacity="0.37"/>
<circle cx="781.4" cy="527.8" r="8.8" fill="url(#grain)" fill-opacity="0.25"/>
<circle cx="789.8" cy="523.6" r="8.0" fill="url(#grain)" fill-opacity="0.39"/>
<circle cx="809.7" cy="521.5" r="9.4" fill="url(#grain)" fill-opacity="0.40"/>
<circle cx="818.1" cy="527.3" r="8.9" fill="url(#grain)" fill-opacity="0.24"/>
<circle cx="833.1" cy="530.0" r="9.2" fill="url(#grain)" fill-opacity="0.40"/>
<circle cx="841.6" cy="527.5" r="8.1" fill="url(#grain)" fill-opacity="0.40"/>
<circle cx="855.9" cy="525.9" r="7.1" fill="url(#grain)" fill-opacity="0.38"/>
<circle cx="692.4" cy="532.7" r="7.6" fill="url(#grain)" fill-opacity="0.23"/>
<circle cx="705.0" cy="538.4" r="7.0" fill="url(#grain)" fill-opacity="0.41"/>
<circle cx="721.6" cy="536.6" r="8.4" fill="url(#grain)" fill-opacity="0.28"/>
<circle cx="731.8" cy="536.2" r="8.0" fill="url(#grain)" fill-opacity="0.36"/>
<circle cx="741.3" cy="535.3" r="8.9" fill="url(#grain)" fill-opacity="0.25"/>
<circle cx="753.7" cy="541.1" r="7.2" fill="url(#grain)" fill-opacity="0.29"/>
<circle cx="769.5" cy="534.9" r="7.8" fill="url(#grain)" fill-opacity="0.32"/>
<circle cx="781.1" cy="537.5" r="6.9" fill="url(#grain)" fill-opacity="0.22"/>
<circle cx="795.4" cy="534.7" r="7.7" fill="url(#grain)" fill-opacity="0.26"/>
<circle cx="814.9" cy="538.7" r="8.1" fill="url(#grain)" fill-opacity="0.37"/>
<circle cx="827.0" cy="535.4" r="8.5" fill="url(#grain)" fill-opacity="0.36"/>
<circle cx="839.1" cy="539.6" r="8.5" fill="url(#grain)" fill-opacity="0.40"/>
<circle cx="850.0" cy="538.8" r="9.4" fill="url(#grain)" fill-opacity="0.32"/>
<rect x="697" y="379.5" width="151.5" height="152.0" fill="#888" opacity="0.12" filter="url(#nz_c1_fine)"/>
<ellipse cx="835" cy="398.0" rx="9" ry="11" transform="rotate(0 835 398.0)" fill="rgb(230,230,230)" fill-opacity="0.8" filter="url(#bl3)"/>
<ellipse cx="797" cy="514.0" rx="13" ry="9" transform="rotate(0 797 514.0)" fill="rgb(230,230,230)" fill-opacity="0.8" filter="url(#bl3)"/>
<ellipse cx="845" cy="425.0" rx="6" ry="8" transform="rotate(0 845 425.0)" fill="rgb(217,217,217)" fill-opacity="0.6" filter="url(#bl3)"/>
<ellipse cx="770.5" cy="437.6" rx="7" ry="6" transform="rotate(0 770.5 437.6)" fill="rgb(184,184,184)" fill-opacity="0.8" filter="url(#bl2_5)"/>
<ellipse cx="784.4" cy="446.0" rx="7" ry="7" transform="rotate(0 784.4 446.0)" fill="rgb(184,184,184)" fill-opacity="0.8" filter="url(#bl2_5)"/>
<ellipse cx="758.8" cy="454.6" rx="8" ry="7" transform="rotate(0 758.8 454.6)" fill="rgb(189,189,189)" fill-opacity="0.8" filter="url(#bl2_5)"/>
<ellipse cx="769.5" cy="467.0" rx="8" ry="5" transform="rotate(0 769.5 467.0)" fill="rgb(76,76,76)" fill-opacity="0.6" filter="url(#bl3)"/>
<ellipse cx="726" cy="455.0" rx="9" ry="14" transform="rotate(0 726 455.0)" fill="rgb(82,82,82)" fill-opacity="0.5" filter="url(#bl4)"/>
<ellipse cx="790" cy="485.0" rx="16" ry="10" transform="rotate(0 790 485.0)" fill="rgb(87,87,87)" fill-opacity="0.45" filter="url(#bl5)"/>
<ellipse cx="712" cy="410.0" rx="10" ry="10" transform="rotate(0 712 410.0)" fill="rgb(92,92,92)" fill-opacity="0.4" filter="url(#bl5)"/>
</g></g>
<rect x="697" y="379.5" width="151.5" height="152.0" fill="none" stroke="#222" stroke-width="1"/>
<g clip-path="url(#cp_c3)"><g filter="url(#pal_c3)">
<rect x="696.5" y="539.5" width="152.5" height="152.5" fill="rgb(92,92,92)"/>
<rect x="696.5" y="539.5" width="152.5" height="152.5" fill="#888" opacity="0.75" filter="url(#nz_c3_lo)"/>
<circle cx="694.1" cy="529.4" r="6.9" fill="url(#grain)" fill-opacity="0.42"/>
<circle cx="700.3" cy="529.2" r="8.6" fill="url(#grain)" fill-opacity="0.28"/>
<circle cx="720.4" cy="530.2" r="9.4" fill="url(#grain)" fill-opacity="0.27"/>
<circle cx="731.2" cy="536.8" r="8.7" fill="url(#grain)" fill-opacity="0.40"/>
<circle cx="745.7" cy="528.5" r="9.2" fill="url(#grain)" fill-opacity="0.33"/>
<circle cx="755.5" cy="529.8" r="9.1" fill="url(#grain)" fill-opacity="0.33"/>
<circle cx="774.9" cy="535.3" r="9.4" fill="url(#grain)" fill-opacity="0.32"/>
<circle cx="786.1" cy="533.8" r="7.5" fill="url(#grain)" fill-opacity="0.41"/>
<circle cx="796.0" cy="535.4" r="9.4" fill="url(#grain)" fill-opacity="0.34"/>
<circle cx="807.9" cy="535.8" r="8.6" fill="url(#grain)" fill-opacity="0.24"/>
<circle cx="820.5" cy="533.1" r="6.9" fill="url(#grain)" fill-opacity="0.40"/>
<circle cx="838.3" cy="532.9" r="7.9" fill="url(#grain)" fill-opacity="0.35"/>
<circle cx="855.7" cy="530.9" r="7.8" fill="url(#grain)" fill-opacity="0.33"/>
<circle cx="694.6" cy="545.4" r="8.3" fill="url(#grain)" fill-opacity="0.30"/>
<circle cx="711.6" cy="544.8" r="7.0" fill="url(#grain)" fill-opacity="0.42"/>
<circle cx="722.1" cy="543.9" r="7.9" fill="url(#grain)" fill-opacity="0.40"/>
<circle cx="741.3" cy="544.6" r="7.9" fill="url(#grain)" fill-opacity="0.22"/>
<circle cx="754.2" cy="541.4" r="8.3" fill="url(#grain)" fill-opacity="0.28"/>
<circle cx="762.4" cy="543.1" r="7.3" fill="url(#grain)" fill-opacity="0.21"/>
<circle cx="777.8" cy="547.3" r="8.5" fill="url(#grain)" fill-opacity="0.24"/>
<circle cx="792.8" cy="540.3" r="7.9" fill="url(#grain)" fill-opacity="0.38"/>
<circle cx="808.5" cy="544.1" r="9.1" fill="url(#grain)" fill-opacity="0.31"/>
<circle cx="818.2" cy="545.3" r="9.5" fill="url(#grain)" fill-opacity="0.36"/>
<circle cx="831.2" cy="546.6" r="8.5" fill="url(#grain)" fill-opacity="0.28"/>
<circle cx="847.7" cy="547.5" r="8.4" fill="url(#grain)" fill-opacity="0.41"/>
<circle cx="853.9" cy="544.5" r="8.5" fill="url(#grain)" fill-opacity="0.27"/>
<circle cx="686.6" cy="558.1" r="8.0" fill="url(#grain)" fill-opacity="0.26"/>
<circle cx="698.9" cy="560.7" r="7.8" fill="url(#grain)" fill-opacity="0.23"/>
<circle cx="714.1" cy="553.9" r="9.1" fill="url(#grain)" fill-opacity="0.24"/>
<circle cx="728.1" cy="552.4" r="8.1" fill="url(#grain)" fill-opacity="0.25"/>
<circle cx="742.3" cy="558.5" r="9.3" fill="url(#grain)" fill-opacity="0.38"/>
<circle cx="752.9" cy="555.1" r="9.1" fill="url(#grain)" fill-opacity="0.21"/>
<circle cx="767.9" cy="556.1" r="7.8" fill="url(#grain)" fill-opacity="0.37"/>
<circle cx="786.3" cy="555.9" r="7.5" fill="url(#grain)" fill-opacity="0.25"/>
<circle cx="795.5" cy="552.1" r="8.6" fill="url(#grain)" fill-opacity="0.23"/>
<circle cx="814.9" cy="557.6" r="7.0" fill="url(#grain)" fill-opacity="0.31"/>
<circle cx="825.7" cy="551.9" r="8.1" fill="url(#grain)" fill-opacity="0.21"/>
<circle cx="840.8" cy="551.6" r="8.5" fill="url(#grain)" fill-opacity="0.42"/>
<circle cx="855.0" cy="553.7" r="8.2" fill="url(#grain)" fill-opacity="0.23"/>
<circle cx="695.0" cy="571.4" r="9.0" fill="url(#grain)" fill-opacity="0.20"/>
<circle cx="708.9" cy="569.3" r="7.3" fill="url(#grain)" fill-opacity="0.38"/>
<circle cx="727.2" cy="568.5" r="7.8" fill="url(#grain)" fill-opacity="0.39"/>
<circle cx="737.1" cy="565.0" r="7.5" fill="url(#grain)" fill-opacity="0.24"/>
<circle cx="753.7" cy="568.1" r="8.7" fill="url(#grain)" fill-opacity="0.38"/>
<circle cx="768.5" cy="565.1" r="7.9" fill="url(#grain)" fill-opacity="0.39"/>
<circle cx="780.0" cy="566.9" r="8.6" fill="url(#grain)" fill-opacity="0.24"/>
<circle cx="787.8" cy="563.7" r="7.8" fill="url(#grain)" fill-opacity="0.25"/>
<circle cx="804.7" cy="572.4" r="7.2" fill="url(#grain)" fill-opacity="0.32"/>
<circle cx="821.4" cy="568.9" r="8.2" fill="url(#grain)" fill-opacity="0.37"/>
<circle cx="827.0" cy="572.2" r="8.7" fill="url(#grain)" fill-opacity="0.38"/>
<circle cx="848.1" cy="564.2" r="7.0" fill="url(#grain)" fill-opacity="0.24"/>
<circle cx="858.5" cy="572.1" r="9.3" fill="url(#grain)" fill-opacity="0.29"/>
<circle cx="690.9" cy="582.0" r="7.7" fill="url(#grain)" fill-opacity="0.41"/>
<circle cx="707.4" cy="581.9" r="9.2" fill="url(#grain)" fill-opacity="0.38"/>
<circle cx="718.2" cy="578.0" r="7.6" fill="url(#grain)" fill-opacity="0.25"/>
<circle cx="726.1" cy="583.8" r="7.6" fill="url(#grain)" fill-opacity="0.21"/>
<circle cx="742.0" cy="576.0" r="8.0" fill="url(#grain)" fill-opacity="0.27"/>
<circle cx="754.2" cy="579.5" r="7.9" fill="url(#grain)" fill-opacity="0.28"/>
<circle cx="773.7" cy="577.9" r="8.3" fill="url(#grain)" fill-opacity="0.39"/>
<circle cx="788.6" cy="578.5" r="6.9" fill="url(#grain)" fill-opacity="0.41"/>
<circle cx="797.9" cy="577.1" r="7.1" fill="url(#grain)" fill-opacity="0.25"/>
<circle cx="809.5" cy="576.3" r="6.9" fill="url(#grain)" fill-opacity="0.42"/>
<circle cx="827.8" cy="576.1" r="8.1" fill="url(#grain)" fill-opacity="0.38"/>
<circle cx="838.3" cy="575.7" r="7.7" fill="url(#grain)" fill-opacity="0.28"/>
<circle cx="855.7" cy="580.5" r="8.0" fill="url(#grain)" fill-opacity="0.34"/>
<circle cx="692.2" cy="593.2" r="9.0" fill="url(#grain)" fill-opacity="0.35"/>
<circle cx="708.7" cy="589.5" r="6.8" fill="url(#grain)" fill-opacity="0.22"/>
<circle cx="720.2" cy="591.0" r="8.9" fill="url(#grain)" fill-opacity="0.25"/>
<circle cx="736.7" cy="592.8" r="8.5" fill="url(#grain)" fill-opacity="0.20"/>
<circle cx="754.5" cy="592.3" r="7.6" fill="url(#grain)" fill-opacity="0.25"/>
<circle cx="765.8" cy="595.6" r="7.7" fill="url(#grain)" fill-opacity="0.29"/>
<circle cx="778.0" cy="588.4" r="7.9" fill="url(#grain)" fill-opacity="0.40"/>
<circle cx="791.5" cy="594.5" r="7.5" fill="url(#grain)" fill-opacity="0.39"/>
<circle cx="807.2" cy="588.9" r="8.2" fill="url(#grain)" fill-opacity="0.35"/>
<circle cx="818.7" cy="592.4" r="7.4" fill="url(#grain)" fill-opacity="0.32"/>
<circle cx="830.1" cy="594.3" r="7.8" fill="url(#grain)" fill-opacity="0.42"/>
<circle cx="845.8" cy="588.9" r="7.9" fill="url(#grain)" fill-opacity="0.23"/>
<circle cx="860.7" cy="587.2" r="8.4" fill="url(#grain)" fill-opacity="0.27"/>
<circle cx="692.4" cy="599.7" r="8.6" fill="url(#grain)" fill-opacity="0.36"/>
<circle cx="700.7" cy="599.7" r="7.8" fill="url(#grain)" fill-opacity="0.34"/>
<circle cx="714.5" cy="598.6" r="8.0" fill="url(#grain)" fill-opacity="0.38"/>
<circle cx="727.0" cy="607.4" r="8.2" fill="url(#grain)" fill-opacity="0.24"/>
<circle cx="740.0" cy="602.0" r="8.1" fill="url(#grain)" fill-opacity="0.24"/>
<circle cx="753.3" cy="603.2" r="7.5" fill="url(#grain)" fill-opacity="0.30"/>
<circle cx="770.3" cy="605.1" r="8.4" fill="url(#grain)" fill-opacity="0.25"/>
<circle cx="781.2" cy="606.6" r="6.9" fill="url(#grain)" fill-opacity="0.23"/>
<circle cx="793.7" cy="606.3" r="8.3" fill="url(#grain)" fill-opacity="0.40"/>
<circle cx="812.4" cy="601.7" r="8.0" fill="url(#grain)" fill-opacity="0.36"/>
<circle cx="822.2" cy="606.1" r="7.9" fill="url(#grain)" fill-opacity="0.21"/>
<circle cx="836.8" cy="603.8" r="7.2" fill="url(#grain)" fill-opacity="0.40"/>
<circle cx="855.8" cy="603.3" r="9.2" fill="url(#grain)" fill-opacity="0.35"/>
<circle cx="696.9" cy="611.7" r="9.4" fill="url(#grain)" fill-opacity="0.40"/>
<circle cx="709.5" cy="613.9" r="7.0" fill="url(#grain)" fill-opacity="0.34"/>
<circle cx="726.9" cy="613.9" r="7.6" fill="url(#grain)" fill-opacity="0.33"/>
<circle cx="739.8" cy="611.8" r="7.6" fill="url(#grain)" fill-opacity="0.34"/>
<circle cx="746.2" cy="618.0" r="7.7" fill="url(#grain)" fill-opacity="0.38"/>
<circle cx="763.6" cy="611.8" r="6.9" fill="url(#grain)" fill-opacity="0.22"/>
<circle cx="775.2" cy="617.4" r="8.9" fill="url(#grain)" fill-opacity="0.34"/>
<circle cx="789.2" cy="616.5" r="8.8" fill="url(#grain)" fill-opacity="0.28"/>
<circle cx="800.5" cy="614.7" r="7.4" fill="url(#grain)" fill-opacity="0.24"/>
<circle cx="817.0" cy="610.9" r="9.2" fill="url(#grain)" fill-opacity="0.26"/>
<circle cx="835.3" cy="617.2" r="6.8" fill="url(#grain)" fill-opacity="0.40"/>
<circle cx="847.9" cy="615.2" r="9.2" fill="url(#grain)" fill-opacity="0.31"/>
<circle cx="854.0" cy="611.7" r="7.6" fill="url(#grain)" fill-opacity="0.39"/>
<circle cx="692.9" cy="623.1" r="7.7" fill="url(#grain)" fill-opacity="0.22"/>
<circle cx="700.7" cy="625.3" r="7.9" fill="url(#grain)" fill-opacity="0.23"/>
<circle cx="718.2" cy="624.3" r="9.2" fill="url(#grain)" fill-opacity="0.31"/>
<circle cx="729.6" cy="629.2" r="7.7" fill="url(#grain)" fill-opacity="0.26"/>
<circle cx="740.2" cy="624.8" r="7.4" fill="url(#grain)" fill-opacity="0.36"/>
<circle cx="755.9" cy="628.7" r="7.5" fill="url(#grain)" fill-opacity="0.22"/>
<circle cx="768.9" cy="625.7" r="9.3" fill="url(#grain)" fill-opacity="0.24"/>
<circle cx="781.5" cy="623.5" r="7.5" fill="url(#grain)" fill-opacity="0.41"/>
<circle cx="801.8" cy="624.1" r="6.9" fill="url(#grain)" fill-opacity="0.31"/>
<circle cx="812.0" cy="623.0" r="7.9" fill="url(#grain)" fill-opacity="0.37"/>
<circle cx="820.0" cy="628.8" r="8.6" fill="url(#grain)" fill-opacity="0.37"/>
<circle cx="838.1" cy="626.4" r="8.2" fill="url(#grain)" fill-opacity="0.23"/>
<circle cx="851.9" cy="624.2" r="7.7" fill="url(#grain)" fill-opacity="0.21"/>
<circle cx="693.3" cy="634.3" r="8.3" fill="url(#grain)" fill-opacity="0.25"/>
<circle cx="710.5" cy="638.5" r="7.4" fill="url(#grain)" fill-opacity="0.23"/>
<circle cx="724.4" cy="640.1" r="8.7" fill="url(#grain)" fill-opacity="0.31"/>
<circle cx="737.8" cy="634.0" r="7.6" fill="url(#grain)" fill-opacity="0.38"/>
<circle cx="749.3" cy="634.7" r="7.9" fill="url(#grain)" fill-opacity="0.38"/>
<circle cx="760.2" cy="634.8" r="8.1" fill="url(#grain)" fill-opacity="0.39"/>
<circle cx="776.5" cy="636.1" r="8.9" fill="url(#grain)" fill-opacity="0.22"/>
<circle cx="789.1" cy="639.4" r="9.1" fill="url(#grain)" fill-opacity="0.39"/>
<circle cx="802.9" cy="636.2" r="7.8" fill="url(#grain)" fill-opacity="0.23"/>
<circle cx="815.9" cy="641.0" r="9.4" fill="url(#grain)" fill-opacity="0.26"/>
<circle cx="827.5" cy="640.7" r="9.4" fill="url(#grain)" fill-opacity="0.37"/>
<circle cx="844.2" cy="640.8" r="8.9" fill="url(#grain)" fill-opacity="0.36"/>
<circle cx="858.4" cy="643.2" r="8.9" fill="url(#grain)" fill-opacity="0.25"/>
<circle cx="689.1" cy="646.3" r="7.8" fill="url(#grain)" fill-opacity="0.38"/>
<circle cx="703.1" cy="650.4" r="8.9" fill="url(#grain)" fill-opacity="0.22"/>
<circle cx="715.4" cy="650.0" r="8.1" fill="url(#grain)" fill-opacity="0.35"/>
<circle cx="734.4" cy="653.0" r="8.3" fill="url(#grain)" fill-opacity="0.35"/>
<circle cx="744.1" cy="654.8" r="8.4" fill="url(#grain)" fill-opacity="0.33"/>
<circle cx="756.3" cy="649.4" r="8.9" fill="url(#grain)" fill-opacity="0.28"/>
<circle cx="774.6" cy="652.4" r="9.4" fill="url(#grain)" fill-opacity="0.36"/>
<circle cx="784.9" cy="648.9" r="6.8" fill="url(#grain)" fill-opacity="0.35"/>
<circle cx="800.1" cy="652.3" r="8.8" fill="url(#grain)" fill-opacity="0.21"/>
<circle cx="813.0" cy="648.1" r="7.8" fill="url(#grain)" fill-opacity="0.39"/>
<circle cx="823.9" cy="649.9" r="6.9" fill="url(#grain)" fill-opacity="0.24"/>
<circle cx="835.5" cy="647.5" r="8.2" fill="url(#grain)" fill-opacity="0.21"/>
<circle cx="847.9" cy="646.3" r="8.8" fill="url(#grain)" fill-opacity="0.41"/>
<circle cx="698.9" cy="662.1" r="7.2" fill="url(#grain)" fill-opacity="0.37"/>
<circle cx="706.5" cy="657.9" r="8.2" fill="url(#grain)" fill-opacity="0.39"/>
<circle cx="721.7" cy="665.4" r="7.7" fill="url(#grain)" fill-opacity="0.41"/>
<circle cx="739.3" cy="665.4" r="9.5" fill="url(#grain)" fill-opacity="0.38"/>
<circle cx="747.6" cy="662.1" r="8.3" fill="url(#grain)" fill-opacity="0.36"/>
<circle cx="761.4" cy="662.7" r="7.6" fill="url(#grain)" fill-opacity="0.24"/>
<circle cx="777.0" cy="664.8" r="8.3" fill="url(#grain)" fill-opacity="0.28"/>
<circle cx="788.4" cy="660.6" r="7.9" fill="url(#grain)" fill-opacity="0.26"/>
<circle cx="802.7" cy="659.4" r="7.6" fill="url(#grain)" fill-opacity="0.35"/>
<circle cx="819.2" cy="663.1" r="9.3" fill="url(#grain)" fill-opacity="0.35"/>
<circle cx="828.0" cy="661.0" r="8.2" fill="url(#grain)" fill-opacity="0.36"/>
<circle cx="845.3" cy="658.1" r="8.1" fill="url(#grain)" fill-opacity="0.34"/>
<circle cx="861.2" cy="661.4" r="7.4" fill="url(#grain)" fill-opacity="0.21"/>
<circle cx="689.8" cy="676.1" r="7.1" fill="url(#grain)" fill-opacity="0.32"/>
<circle cx="704.2" cy="674.3" r="7.4" fill="url(#grain)" fill-opacity="0.22"/>
<circle cx="712.2" cy="671.8" r="9.2" fill="url(#grain)" fill-opacity="0.29"/>
<circle cx="734.9" cy="676.8" r="8.4" fill="url(#grain)" fill-opacity="0.30"/>
<circle cx="744.3" cy="676.9" r="7.7" fill="url(#grain)" fill-opacity="0.23"/>
<circle cx="761.0" cy="674.9" r="7.8" fill="url(#grain)" fill-opacity="0.29"/>
<circle cx="767.0" cy="674.3" r="8.9" fill="url(#grain)" fill-opacity="0.31"/>
<circle cx="786.1" cy="675.9" r="7.7" fill="url(#grain)" fill-opacity="0.34"/>
<circle cx="802.2" cy="675.7" r="7.3" fill="url(#grain)" fill-opacity="0.35"/>
<circle cx="812.6" cy="676.3" r="8.7" fill="url(#grain)" fill-opacity="0.40"/>
<circle cx="829.3" cy="670.9" r="8.1" fill="url(#grain)" fill-opacity="0.21"/>
<circle cx="842.8" cy="670.0" r="8.0" fill="url(#grain)" fill-opacity="0.34"/>
<circle cx="851.1" cy="670.6" r="8.2" fill="url(#grain)" fill-opacity="0.25"/>
<circle cx="696.4" cy="687.5" r="7.6" fill="url(#grain)" fill-opacity="0.30"/>
<circle cx="711.2" cy="685.7" r="9.0" fill="url(#grain)" fill-opacity="0.40"/>
<circle cx="727.9" cy="682.3" r="8.1" fill="url(#grain)" fill-opacity="0.23"/>
<circle cx="738.9" cy="684.5" r="9.1" fill="url(#grain)" fill-opacity="0.31"/>
<circle cx="753.3" cy="681.0" r="8.5" fill="url(#grain)" fill-opacity="0.29"/>
<circle cx="767.1" cy="681.7" r="7.0" fill="url(#grain)" fill-opacity="0.35"/>
<circle cx="775.9" cy="684.8" r="7.9" fill="url(#grain)" fill-opacity="0.42"/>
<circle cx="792.2" cy="688.6" r="9.1" fill="url(#grain)" fill-opacity="0.39"/>
<circle cx="804.0" cy="683.5" r="8.2" fill="url(#grain)" fill-opacity="0.40"/>
<circle cx="821.6" cy="685.2" r="9.2" fill="url(#grain)" fill-opacity="0.37"/>
<circle cx="827.2" cy="686.7" r="8.9" fill="url(#grain)" fill-opacity="0.21"/>
<circle cx="843.8" cy="686.8" r="8.2" fill="url(#grain)" fill-opacity="0.32"/>
<circle cx="854.6" cy="683.2" r="9.1" fill="url(#grain)" fill-opacity="0.28"/>
<circle cx="689.6" cy="698.0" r="7.6" fill="url(#grain)" fill-opacity="0.29"/>
<circle cx="703.3" cy="700.7" r="9.1" fill="url(#grain)" fill-opacity="0.24"/>
<circle cx="716.8" cy="699.6" r="9.2" fill="url(#grain)" fill-opacity="0.32"/>
<circle cx="731.5" cy="698.6" r="8.6" fill="url(#grain)" fill-opacity="0.40"/>
<circle cx="748.3" cy="701.8" r="7.1" fill="url(#grain)" fill-opacity="0.36"/>
<circle cx="756.2" cy="695.1" r="7.1" fill="url(#grain)" fill-opacity="0.40"/>
<circle cx="774.5" cy="697.5" r="8.1" fill="url(#grain)" fill-opacity="0.25"/>
<circle cx="788.3" cy="699.6" r="7.3" fill="url(#grain)" fill-opacity="0.33"/>
<circle cx="802.4" cy="694.9" r="7.8" fill="url(#grain)" fill-opacity="0.28"/>
<circle cx="810.0" cy="693.6" r="8.5" fill="url(#grain)" fill-opacity="0.25"/>
<circle cx="826.5" cy="696.9" r="9.1" fill="url(#grain)" fill-opacity="0.36"/>
<circle cx="841.6" cy="693.9" r="8.9" fill="url(#grain)" fill-opacity="0.37"/>
<circle cx="849.8" cy="692.5" r="7.1" fill="url(#grain)" fill-opacity="0.37"/>
<rect x="696.5" y="539.5" width="152.5" height="152.5" fill="#888" opacity="0.12" filter="url(#nz_c3_fine)"/>
<ellipse cx="835" cy="558.0" rx="9" ry="11" transform="rotate(0 835 558.0)" fill="rgb(230,230,230)" fill-opacity="0.8" filter="url(#bl3)"/>
<ellipse cx="797" cy="674.0" rx="13" ry="9" transform="rotate(0 797 674.0)" fill="rgb(230,230,230)" fill-opacity="0.8" filter="url(#bl3)"/>
<ellipse cx="845" cy="585.0" rx="6" ry="8" transform="rotate(0 845 585.0)" fill="rgb(217,217,217)" fill-opacity="0.6" filter="url(#bl3)"/>
<ellipse cx="770.5" cy="597.6" rx="7" ry="6" transform="rotate(0 770.5 597.6)" fill="rgb(184,184,184)" fill-opacity="0.8" filter="url(#bl2_5)"/>
<ellipse cx="784.4" cy="606.0" rx="7" ry="7" transform="rotate(0 784.4 606.0)" fill="rgb(184,184,184)" fill-opacity="0.8" filter="url(#bl2_5)"/>
<ellipse cx="758.8" cy="614.6" rx="8" ry="7" transform="rotate(0 758.8 614.6)" fill="rgb(189,189,189)" fill-opacity="0.8" filter="url(#bl2_5)"/>
<ellipse cx="769.5" cy="627.0" rx="8" ry="5" transform="rotate(0 769.5 627.0)" fill="rgb(76,76,76)" fill-opacity="0.6" filter="url(#bl3)"/>
<ellipse cx="726" cy="615.0" rx="9" ry="14" transform="rotate(0 726 615.0)" fill="rgb(82,82,82)" fill-opacity="0.5" filter="url(#bl4)"/>
<ellipse cx="790" cy="645.0" rx="16" ry="10" transform="rotate(0 790 645.0)" fill="rgb(87,87,87)" fill-opacity="0.45" filter="url(#bl5)"/>
<ellipse cx="712" cy="570.0" rx="10" ry="10" transform="rotate(0 712 570.0)" fill="rgb(92,92,92)" fill-opacity="0.4" filter="url(#bl5)"/>
</g></g>
<rect x="696.5" y="539.5" width="152.5" height="152.5" fill="none" stroke="#222" stroke-width="1"/>
<g clip-path="url(#cp_c2)"><g filter="url(#pal_c2)">
<rect x="932.5" y="380" width="153.0" height="151.5" fill="rgb(140,140,140)"/>
<rect x="932.5" y="380" width="153.0" height="151.5" fill="#888" filter="url(#nz_c2_lo)"/>
<ellipse cx="938" cy="401" rx="5" ry="5" transform="rotate(0 938 401)" fill="rgb(247,247,247)" fill-opacity="0.9" filter="url(#bl2)"/>
<ellipse cx="976.5" cy="387" rx="6" ry="5" transform="rotate(0 976.5 387)" fill="rgb(247,247,247)" fill-opacity="0.85" filter="url(#bl2)"/>
<ellipse cx="947" cy="428" rx="9" ry="5" transform="rotate(0 947 428)" fill="rgb(230,230,230)" fill-opacity="0.8" filter="url(#bl2)"/>
<ellipse cx="972" cy="439" rx="9" ry="5" transform="rotate(0 972 439)" fill="rgb(230,230,230)" fill-opacity="0.8" filter="url(#bl2)"/>
<ellipse cx="984" cy="418" rx="4" ry="4" transform="rotate(0 984 418)" fill="rgb(230,230,230)" fill-opacity="0.8" filter="url(#bl2)"/>
<ellipse cx="1030" cy="402" rx="8" ry="7" transform="rotate(0 1030 402)" fill="rgb(247,247,247)" fill-opacity="0.9" filter="url(#bl2)"/>
<ellipse cx="1033" cy="416" rx="8" ry="6" transform="rotate(0 1033 416)" fill="rgb(247,247,247)" fill-opacity="0.9" filter="url(#bl2)"/>
<ellipse cx="1076" cy="433" rx="9" ry="6" transform="rotate(0 1076 433)" fill="rgb(247,247,247)" fill-opacity="0.9" filter="url(#bl2)"/>
<ellipse cx="1025" cy="386" rx="5" ry="4" transform="rotate(0 1025 386)" fill="rgb(230,230,230)" fill-opacity="0.8" filter="url(#bl2)"/>
<ellipse cx="1038" cy="450" rx="3" ry="5" transform="rotate(0 1038 450)" fill="rgb(230,230,230)" fill-opacity="0.8" filter="url(#bl2)"/>
<ellipse cx="1076" cy="456" rx="8" ry="4" transform="rotate(0 1076 456)" fill="rgb(247,247,247)" fill-opacity="0.9" filter="url(#bl2)"/>
<ellipse cx="962" cy="491" rx="6" ry="4" transform="rotate(0 962 491)" fill="rgb(235,235,235)" fill-opacity="0.85" filter="url(#bl2)"/>
<ellipse cx="1028" cy="495" rx="4" ry="4" transform="rotate(0 1028 495)" fill="rgb(235,235,235)" fill-opacity="0.85" filter="url(#bl2)"/>
<ellipse cx="1070" cy="497" rx="5" ry="4" transform="rotate(0 1070 497)" fill="rgb(235,235,235)" fill-opacity="0.85" filter="url(#bl2)"/>
<ellipse cx="1046" cy="471" rx="8" ry="5" transform="rotate(0 1046 471)" fill="rgb(204,204,204)" fill-opacity="0.7" filter="url(#bl3)"/>
<ellipse cx="942" cy="477" rx="9" ry="6" transform="rotate(0 942 477)" fill="rgb(204,204,204)" fill-opacity="0.7" filter="url(#bl3)"/>
<ellipse cx="956" cy="393" rx="5" ry="4" transform="rotate(0 956 393)" fill="rgb(51,51,51)" fill-opacity="0.8" filter="url(#bl2)"/>
<ellipse cx="938" cy="419" rx="5" ry="5" transform="rotate(0 938 419)" fill="rgb(51,51,51)" fill-opacity="0.8" filter="url(#bl2)"/>
<ellipse cx="1073" cy="424" rx="11" ry="4" transform="rotate(0 1073 424)" fill="rgb(51,51,51)" fill-opacity="0.8" filter="url(#bl2)"/>
<ellipse cx="1063" cy="412" rx="5" ry="3" transform="rotate(0 1063 412)" fill="rgb(51,51,51)" fill-opacity="0.8" filter="url(#bl2)"/>
<ellipse cx="960" cy="479" rx="7" ry="3" transform="rotate(0 960 479)" fill="rgb(51,51,51)" fill-opacity="0.8" filter="url(#bl2)"/>
<polygon points="975.6,417.3 969.8,411.9 968.5,399.9 977.6,400.4 984.5,408.8" fill="rgb(10,10,10)" fill-opacity="0.85" filter="url(#bl1)"/>
<polygon points="1000.0,413.6 994.4,400.0 1000.9,380.8 1011.3,389.8 1010.1,409.2" fill="rgb(10,10,10)" fill-opacity="0.85" filter="url(#bl1)"/>
<polygon points="1007.3,385.2 1015.4,388.0 1017.1,404.8 1011.9,407.8 1004.2,395.3" fill="rgb(10,10,10)" fill-opacity="0.85" filter="url(#bl1)"/>
<polygon points="1037.1,403.7 1040.7,394.4 1050.6,395.7 1053.0,406.9 1048.0,410.4 1042.2,411.0" fill="rgb(10,10,10)" fill-opacity="0.85" filter="url(#bl1)"/>
<polygon points="1053.6,382.6 1053.7,387.6 1047.7,390.9 1044.7,385.1 1048.3,381.3" fill="rgb(10,10,10)" fill-opacity="0.85" filter="url(#bl1)"/>
<polygon points="964.3,432.5 967.2,428.0 970.9,428.0 974.4,431.9 973.2,437.3 966.2,437.0" fill="rgb(10,10,10)" fill-opacity="0.85" filter="url(#bl1)"/>
<polygon points="954.2,456.8 951.6,447.9 955.3,439.9 961.2,439.0 962.9,449.4 961.4,459.8" fill="rgb(10,10,10)" fill-opacity="0.85" filter="url(#bl1)"/>
<polygon points="978.9,466.5 969.1,467.3 961.5,466.0 962.0,459.1 965.2,451.7 976.1,453.3 981.1,458.7" fill="rgb(10,10,10)" fill-opacity="0.85" filter="url(#bl1)"/>
<polygon points="935.6,462.0 938.2,468.3 936.5,470.7 931.9,470.8 932.2,464.0" fill="rgb(10,10,10)" fill-opacity="0.85" filter="url(#bl1)"/>
<polygon points="955.8,491.2 952.0,493.1 940.6,492.6 937.8,489.3 941.0,482.7 952.8,483.4" fill="rgb(10,10,10)" fill-opacity="0.85" filter="url(#bl1)"/>
<polygon points="989.3,487.7 990.2,494.3 986.8,500.5 977.9,499.1 974.8,496.6 975.2,490.9 982.0,485.2" fill="rgb(10,10,10)" fill-opacity="0.85" filter="url(#bl1)"/>
<polygon points="1003.4,486.0 1002.5,483.7 1011.3,476.6 1015.2,479.0 1022.2,483.1 1020.7,490.2 1012.9,489.8" fill="rgb(10,10,10)" fill-opacity="0.85" filter="url(#bl1)"/>
<polygon points="1056.2,477.7 1065.5,480.8 1073.5,485.5 1063.2,492.6 1051.1,492.0 1047.9,486.8 1045.6,483.3" fill="rgb(10,10,10)" fill-opacity="0.85" filter="url(#bl1)"/>
<polygon points="1080.9,479.7 1075.6,473.0 1074.9,460.8 1078.3,457.1 1084.5,463.1 1086.6,469.8" fill="rgb(10,10,10)" fill-opacity="0.85" filter="url(#bl1)"/>
<polygon points="1019.9,490.9 1022.7,494.7 1020.1,499.9 1010.2,499.4 1012.4,493.1" fill="rgb(10,10,10)" fill-opacity="0.85" filter="url(#bl1)"/>
<ellipse cx="1006" cy="452" rx="21" ry="19" transform="rotate(0 1006 452)" fill="rgb(13,13,13)" fill-opacity="0.8" filter="url(#bl3)"/>
<polygon points="946.3,407.4 944.3,398.9 955.8,395.7 957.7,401.7 953.9,406.5" fill="rgb(64,64,64)" fill-opacity="0.7" filter="url(#bl1_5)"/>
<polygon points="983.2,425.3 988.3,424.5 994.3,425.9 996.9,429.7 996.2,434.8 986.9,434.8 983.5,432.9" fill="rgb(64,64,64)" fill-opacity="0.7" filter="url(#bl1_5)"/>
<polygon points="993.7,468.5 1001.7,465.2 1008.5,468.3 1004.8,473.3 996.8,474.7 992.7,471.3" fill="rgb(64,64,64)" fill-opacity="0.7" filter="url(#bl1_5)"/>
<polygon points="1060.2,450.5 1049.2,449.9 1049.6,446.2 1051.4,443.4 1058.5,439.3 1063.1,443.9 1064.2,447.6" fill="rgb(64,64,64)" fill-opacity="0.7" filter="url(#bl1_5)"/>
<polygon points="942.7,518.3 936.4,514.8 936.7,509.0 942.8,507.1 952.6,509.3 951.4,516.3" fill="rgb(64,64,64)" fill-opacity="0.7" filter="url(#bl1_5)"/>
<polygon points="1035.7,523.9 1032.7,519.4 1038.9,514.3 1044.0,516.0 1047.3,520.8 1044.5,526.3" fill="rgb(64,64,64)" fill-opacity="0.7" filter="url(#bl1_5)"/>
<polygon points="1071.8,399.4 1065.8,402.1 1059.1,397.5 1057.7,393.8 1065.4,390.3 1071.0,389.5 1074.5,394.8" fill="rgb(64,64,64)" fill-opacity="0.7" filter="url(#bl1_5)"/>
<polygon points="981.7,386.9 980.9,382.1 986.0,379.7 990.1,381.0 994.0,383.5 993.8,386.3 988.1,388.5" fill="rgb(64,64,64)" fill-opacity="0.7" filter="url(#bl1_5)"/>
<polygon points="1023.6,435.9 1025.0,443.6 1018.9,445.9 1014.3,441.3 1016.7,433.8" fill="rgb(64,64,64)" fill-opacity="0.7" filter="url(#bl1_5)"/>
<polygon points="933.1,435.4 941.3,439.4 941.9,445.8 934.6,451.6 929.8,449.0 928.9,440.8" fill="rgb(64,64,64)" fill-opacity="0.7" filter="url(#bl1_5)"/>
<polygon points="1081.4,509.4 1072.7,508.6 1070.2,504.7 1078.4,499.0 1084.0,503.9" fill="rgb(64,64,64)" fill-opacity="0.7" filter="url(#bl1_5)"/>
<polygon points="1001.0,519.5 994.4,515.3 999.4,509.8 1009.4,511.2 1008.3,520.0" fill="rgb(64,64,64)" fill-opacity="0.7" filter="url(#bl1_5)"/>
<polygon points="958.1,524.4 956.0,521.6 961.0,517.7 969.6,520.0 966.0,524.4" fill="rgb(64,64,64)" fill-opacity="0.7" filter="url(#bl1_5)"/>
<polygon points="943.3,512.0 937.5,509.8 939.9,497.3 948.0,494.8 954.5,507.5" fill="rgb(64,64,64)" fill-opacity="0.7" filter="url(#bl1_5)"/>
<polygon points="946.7,521.0 949.8,513.4 959.0,515.2 961.2,524.5 954.1,528.3" fill="rgb(64,64,64)" fill-opacity="0.7" filter="url(#bl1_5)"/>
<polygon points="989.0,515.6 982.6,517.8 979.3,508.4 984.8,502.3 990.2,505.1" fill="rgb(64,64,64)" fill-opacity="0.7" filter="url(#bl1_5)"/>
<polygon points="1051.2,511.6 1045.9,512.6 1042.9,504.6 1044.6,497.4 1052.4,497.6 1058.9,501.3 1056.7,508.0" fill="rgb(64,64,64)" fill-opacity="0.7" filter="url(#bl1_5)"/>
<polygon points="1059.0,513.1 1063.5,506.9 1071.5,511.2 1071.4,520.1 1064.2,521.6" fill="rgb(64,64,64)" fill-opacity="0.7" filter="url(#bl1_5)"/>
<polygon points="1017.3,463.9 1026.0,468.6 1027.0,474.0 1016.6,473.8 1012.6,470.1" fill="rgb(64,64,64)" fill-opacity="0.7" filter="url(#bl1_5)"/>
<polygon points="1055.0,465.3 1053.1,463.3 1055.5,457.9 1060.0,456.4 1066.7,457.7 1064.5,464.7 1059.3,466.5" fill="rgb(64,64,64)" fill-opacity="0.7" filter="url(#bl1_5)"/>
<polygon points="951.2,465.2 953.8,469.4 953.0,473.0 946.0,474.3 942.7,474.6 943.0,467.9 944.1,465.2" fill="rgb(64,64,64)" fill-opacity="0.7" filter="url(#bl1_5)"/>
<polygon points="1022.8,388.3 1015.9,390.7 1007.9,388.0 1009.8,381.0 1014.6,379.9 1022.8,382.2" fill="rgb(64,64,64)" fill-opacity="0.7" filter="url(#bl1_5)"/>
<polygon points="1077.8,410.7 1080.5,402.1 1086.0,406.7 1086.6,415.4 1080.8,417.9" fill="rgb(64,64,64)" fill-opacity="0.7" filter="url(#bl1_5)"/>
<polygon points="953.0,410.7 956.7,406.7 965.0,406.4 966.5,412.0 965.4,415.2 959.6,417.0 956.6,415.7" fill="rgb(64,64,64)" fill-opacity="0.7" filter="url(#bl1_5)"/>
<polygon points="994.1,405.2 1001.8,408.2 997.9,414.5 991.7,413.8 988.4,408.8" fill="rgb(64,64,64)" fill-opacity="0.7" filter="url(#bl1_5)"/>
<rect x="932.5" y="380" width="153.0" height="151.5" fill="#888" opacity="0.36" filter="url(#nz_c2_hi)"/>
<ellipse cx="938" cy="401" rx="4.0" ry="4.0" transform="rotate(0 938 401)" fill="rgb(247,247,247)" fill-opacity="0.55" filter="url(#bl2)"/>
<ellipse cx="976.5" cy="387" rx="4.800000000000001" ry="4.0" transform="rotate(0 976.5 387)" fill="rgb(247,247,247)" fill-opacity="0.55" filter="url(#bl2)"/>
<ellipse cx="947" cy="428" rx="7.2" ry="4.0" transform="rotate(0 947 428)" fill="rgb(247,247,247)" fill-opacity="0.55" filter="url(#bl2)"/>
<ellipse cx="972" cy="439" rx="7.2" ry="4.0" transform="rotate(0 972 439)" fill="rgb(247,247,247)" fill-opacity="0.55" filter="url(#bl2)"/>
<ellipse cx="984" cy="418" rx="3.2" ry="3.2" transform="rotate(0 984 418)" fill="rgb(247,247,247)" fill-opacity="0.55" filter="url(#bl2)"/>
<ellipse cx="1030" cy="402" rx="6.4" ry="5.6000000000000005" transform="rotate(0 1030 402)" fill="rgb(247,247,247)" fill-opacity="0.55" filter="url(#bl2)"/>
<ellipse cx="1033" cy="416" rx="6.4" ry="4.800000000000001" transform="rotate(0 1033 416)" fill="rgb(247,247,247)" fill-opacity="0.55" filter="url(#bl2)"/>
<ellipse cx="1076" cy="433" rx="7.2" ry="4.800000000000001" transform="rotate(0 1076 433)" fill="rgb(247,247,247)" fill-opacity="0.55" filter="url(#bl2)"/>
<ellipse cx="1025" cy="386" rx="4.0" ry="3.2" transform="rotate(0 1025 386)" fill="rgb(247,247,247)" fill-opacity="0.55" filter="url(#bl2)"/>
<ellipse cx="1038" cy="450" rx="2.4000000000000004" ry="4.0" transform="rotate(0 1038 450)" fill="rgb(247,247,247)" fill-opacity="0.55" filter="url(#bl2)"/>
<ellipse cx="1076" cy="456" rx="6.4" ry="3.2" transform="rotate(0 1076 456)" fill="rgb(247,247,247)" fill-opacity="0.55" filter="url(#bl2)"/>
<ellipse cx="962" cy="491" rx="4.800000000000001" ry="3.2" transform="rotate(0 962 491)" fill="rgb(247,247,247)" fill-opacity="0.55" filter="url(#bl2)"/>
<ellipse cx="1028" cy="495" rx="3.2" ry="3.2" transform="rotate(0 1028 495)" fill="rgb(247,247,247)" fill-opacity="0.55" filter="url(#bl2)"/>
<ellipse cx="1070" cy="497" rx="4.0" ry="3.2" transform="rotate(0 1070 497)" fill="rgb(247,247,247)" fill-opacity="0.55" filter="url(#bl2)"/>
<ellipse cx="1046" cy="471" rx="6.4" ry="4.0" transform="rotate(0 1046 471)" fill="rgb(247,247,247)" fill-opacity="0.55" filter="url(#bl2)"/>
<ellipse cx="942" cy="477" rx="7.2" ry="4.800000000000001" transform="rotate(0 942 477)" fill="rgb(247,247,247)" fill-opacity="0.55" filter="url(#bl2)"/>
<polygon points="975.4,414.8 971.1,410.7 970.2,401.9 976.9,402.2 982.0,408.4" fill="rgb(10,10,10)" fill-opacity="0.45" filter="url(#bl1)"/>
<polygon points="1001.1,409.3 996.9,399.2 1001.7,385.0 1009.4,391.7 1008.5,406.1" fill="rgb(10,10,10)" fill-opacity="0.45" filter="url(#bl1)"/>
<polygon points="1008.5,388.0 1014.5,390.1 1015.8,402.5 1011.9,404.7 1006.2,395.5" fill="rgb(10,10,10)" fill-opacity="0.45" filter="url(#bl1)"/>
<polygon points="1039.1,403.8 1041.8,396.9 1049.1,397.9 1050.9,406.1 1047.2,408.8 1042.9,409.2" fill="rgb(10,10,10)" fill-opacity="0.45" filter="url(#bl1)"/>
<polygon points="1052.7,383.3 1052.7,386.9 1048.3,389.4 1046.0,385.1 1048.8,382.2" fill="rgb(10,10,10)" fill-opacity="0.45" filter="url(#bl1)"/>
<polygon points="965.8,432.6 968.0,429.3 970.7,429.3 973.3,432.1 972.4,436.2 967.2,436.0" fill="rgb(10,10,10)" fill-opacity="0.45" filter="url(#bl1)"/>
<polygon points="954.9,455.0 953.0,448.5 955.8,442.5 960.1,441.8 961.4,449.5 960.2,457.3" fill="rgb(10,10,10)" fill-opacity="0.45" filter="url(#bl1)"/>
<polygon points="976.8,464.8 969.6,465.4 964.0,464.4 964.3,459.3 966.7,453.9 974.8,455.0 978.5,459.0" fill="rgb(10,10,10)" fill-opacity="0.45" filter="url(#bl1)"/>
<polygon points="935.4,463.3 937.4,468.0 936.1,469.8 932.7,469.8 932.9,464.8" fill="rgb(10,10,10)" fill-opacity="0.45" filter="url(#bl1)"/>
<polygon points="953.5,490.6 950.7,492.0 942.3,491.7 940.2,489.2 942.5,484.3 951.3,484.9" fill="rgb(10,10,10)" fill-opacity="0.45" filter="url(#bl1)"/>
<polygon points="987.7,489.1 988.3,494.0 985.9,498.6 979.2,497.5 977.0,495.7 977.2,491.4 982.2,487.2" fill="rgb(10,10,10)" fill-opacity="0.45" filter="url(#bl1)"/>
<polygon points="1005.9,485.5 1005.3,483.8 1011.8,478.5 1014.7,480.3 1019.8,483.4 1018.7,488.6 1012.9,488.3" fill="rgb(10,10,10)" fill-opacity="0.45" filter="url(#bl1)"/>
<polygon points="1056.7,479.9 1063.6,482.2 1069.5,485.6 1061.8,490.9 1052.9,490.4 1050.6,486.6 1048.8,484.0" fill="rgb(10,10,10)" fill-opacity="0.45" filter="url(#bl1)"/>
<polygon points="1080.7,476.7 1076.7,471.7 1076.2,462.7 1078.7,460.0 1083.3,464.4 1084.9,469.3" fill="rgb(10,10,10)" fill-opacity="0.45" filter="url(#bl1)"/>
<polygon points="1019.1,492.2 1021.2,495.0 1019.3,498.9 1011.9,498.5 1013.6,493.9" fill="rgb(10,10,10)" fill-opacity="0.45" filter="url(#bl1)"/>
<ellipse cx="1006" cy="452" rx="17.849999999999998" ry="16.15" transform="rotate(0 1006 452)" fill="rgb(26,26,26)" fill-opacity="0.4" filter="url(#bl3)"/>
</g></g>
<rect x="932.5" y="380" width="153.0" height="151.5" fill="none" stroke="#222" stroke-width="1"/>
<g clip-path="url(#cp_c4)"><g filter="url(#pal_c4)">
<rect x="931.5" y="539.5" width="153.5" height="152.0" fill="rgb(140,140,140)"/>
<rect x="931.5" y="539.5" width="153.5" height="152.0" fill="#888" filter="url(#nz_c4_lo)"/>
<ellipse cx="937" cy="560.5" rx="5" ry="5" transform="rotate(0 937 560.5)" fill="rgb(247,247,247)" fill-opacity="0.9" filter="url(#bl2)"/>
<ellipse cx="975.5" cy="546.5" rx="6" ry="5" transform="rotate(0 975.5 546.5)" fill="rgb(247,247,247)" fill-opacity="0.85" filter="url(#bl2)"/>
<ellipse cx="946" cy="587.5" rx="9" ry="5" transform="rotate(0 946 587.5)" fill="rgb(230,230,230)" fill-opacity="0.8" filter="url(#bl2)"/>
<ellipse cx="971" cy="598.5" rx="9" ry="5" transform="rotate(0 971 598.5)" fill="rgb(230,230,230)" fill-opacity="0.8" filter="url(#bl2)"/>
<ellipse cx="983" cy="577.5" rx="4" ry="4" transform="rotate(0 983 577.5)" fill="rgb(230,230,230)" fill-opacity="0.8" filter="url(#bl2)"/>
<ellipse cx="1029" cy="561.5" rx="8" ry="7" transform="rotate(0 1029 561.5)" fill="rgb(247,247,247)" fill-opacity="0.9" filter="url(#bl2)"/>
<ellipse cx="1032" cy="575.5" rx="8" ry="6" transform="rotate(0 1032 575.5)" fill="rgb(247,247,247)" fill-opacity="0.9" filter="url(#bl2)"/>
<ellipse cx="1075" cy="592.5" rx="9" ry="6" transform="rotate(0 1075 592.5)" fill="rgb(247,247,247)" fill-opacity="0.9" filter="url(#bl2)"/>
<ellipse cx="1024" cy="545.5" rx="5" ry="4" transform="rotate(0 1024 545.5)" fill="rgb(230,230,230)" fill-opacity="0.8" filter="url(#bl2)"/>
<ellipse cx="1037" cy="609.5" rx="3" ry="5" transform="rotate(0 1037 609.5)" fill="rgb(230,230,230)" fill-opacity="0.8" filter="url(#bl2)"/>
<ellipse cx="1075" cy="615.5" rx="8" ry="4" transform="rotate(0 1075 615.5)" fill="rgb(247,247,247)" fill-opacity="0.9" filter="url(#bl2)"/>
<ellipse cx="961" cy="650.5" rx="6" ry="4" transform="rotate(0 961 650.5)" fill="rgb(235,235,235)" fill-opacity="0.85" filter="url(#bl2)"/>
<ellipse cx="1027" cy="654.5" rx="4" ry="4" transform="rotate(0 1027 654.5)" fill="rgb(235,235,235)" fill-opacity="0.85" filter="url(#bl2)"/>
<ellipse cx="1069" cy="656.5" rx="5" ry="4" transform="rotate(0 1069 656.5)" fill="rgb(235,235,235)" fill-opacity="0.85" filter="url(#bl2)"/>
<ellipse cx="1045" cy="630.5" rx="8" ry="5" transform="rotate(0 1045 630.5)" fill="rgb(204,204,204)" fill-opacity="0.7" filter="url(#bl3)"/>
<ellipse cx="941" cy="636.5" rx="9" ry="6" transform="rotate(0 941 636.5)" fill="rgb(204,204,204)" fill-opacity="0.7" filter="url(#bl3)"/>
<ellipse cx="955" cy="552.5" rx="5" ry="4" transform="rotate(0 955 552.5)" fill="rgb(51,51,51)" fill-opacity="0.8" filter="url(#bl2)"/>
<ellipse cx="937" cy="578.5" rx="5" ry="5" transform="rotate(0 937 578.5)" fill="rgb(51,51,51)" fill-opacity="0.8" filter="url(#bl2)"/>
<ellipse cx="1072" cy="583.5" rx="11" ry="4" transform="rotate(0 1072 583.5)" fill="rgb(51,51,51)" fill-opacity="0.8" filter="url(#bl2)"/>
<ellipse cx="1062" cy="571.5" rx="5" ry="3" transform="rotate(0 1062 571.5)" fill="rgb(51,51,51)" fill-opacity="0.8" filter="url(#bl2)"/>
<ellipse cx="959" cy="638.5" rx="7" ry="3" transform="rotate(0 959 638.5)" fill="rgb(51,51,51)" fill-opacity="0.8" filter="url(#bl2)"/>
<polygon points="966.8,566.3 970.5,556.8 980.6,559.8 979.9,571.2 977.9,575.0 968.2,572.3" fill="rgb(10,10,10)" fill-opacity="0.85" filter="url(#bl1)"/>
<polygon points="1009.6,556.9 1007.6,572.2 996.9,564.4 995.8,545.3 1002.7,540.6" fill="rgb(10,10,10)" fill-opacity="0.85" filter="url(#bl1)"/>
<polygon points="1008.2,570.0 1005.4,550.7 1007.3,543.9 1017.5,546.1 1018.7,554.6 1015.1,566.1" fill="rgb(10,10,10)" fill-opacity="0.85" filter="url(#bl1)"/>
<polygon points="1033.5,564.0 1040.6,554.9 1045.9,553.2 1052.6,560.3 1049.0,568.7 1042.6,571.7" fill="rgb(10,10,10)" fill-opacity="0.85" filter="url(#bl1)"/>
<polygon points="1052.2,548.7 1050.4,549.5 1044.4,546.9 1044.4,542.5 1045.2,540.3 1050.2,538.9 1052.9,543.0" fill="rgb(10,10,10)" fill-opacity="0.85" filter="url(#bl1)"/>
<polygon points="964.3,594.0 964.3,589.6 966.1,588.4 971.9,587.4 973.6,593.3 972.5,596.6 967.5,596.8" fill="rgb(10,10,10)" fill-opacity="0.85" filter="url(#bl1)"/>
<polygon points="958.9,617.3 955.7,617.9 948.3,613.0 952.1,599.4 956.8,597.0 961.3,606.5" fill="rgb(10,10,10)" fill-opacity="0.85" filter="url(#bl1)"/>
<polygon points="974.1,628.1 964.4,624.1 960.0,618.3 972.3,612.6 979.9,617.3" fill="rgb(10,10,10)" fill-opacity="0.85" filter="url(#bl1)"/>
<polygon points="937.3,624.3 937.0,631.0 933.0,632.5 930.6,629.1 931.2,623.0 933.9,621.8" fill="rgb(10,10,10)" fill-opacity="0.85" filter="url(#bl1)"/>
<polygon points="950.1,653.6 939.8,652.6 938.7,650.6 939.9,643.9 944.8,641.7 954.3,645.7 952.9,651.4" fill="rgb(10,10,10)" fill-opacity="0.85" filter="url(#bl1)"/>
<polygon points="986.2,646.6 991.6,654.5 990.0,658.9 981.3,658.6 972.6,656.6 974.4,647.6 980.8,642.8" fill="rgb(10,10,10)" fill-opacity="0.85" filter="url(#bl1)"/>
<polygon points="1020.6,640.0 1025.2,646.8 1009.1,650.5 999.3,642.7 1010.2,636.6" fill="rgb(10,10,10)" fill-opacity="0.85" filter="url(#bl1)"/>
<polygon points="1046.9,644.3 1049.7,639.9 1062.2,640.1 1072.6,645.2 1059.4,653.1 1046.9,651.4" fill="rgb(10,10,10)" fill-opacity="0.85" filter="url(#bl1)"/>
<polygon points="1086.1,625.1 1083.3,633.7 1079.6,638.4 1074.0,636.0 1071.6,623.4 1076.2,618.0 1081.0,617.0" fill="rgb(10,10,10)" fill-opacity="0.85" filter="url(#bl1)"/>
<polygon points="1015.5,661.7 1010.4,656.6 1010.3,651.8 1020.5,650.4 1022.9,657.8" fill="rgb(10,10,10)" fill-opacity="0.85" filter="url(#bl1)"/>
<ellipse cx="1005" cy="611.5" rx="21" ry="19" transform="rotate(0 1005 611.5)" fill="rgb(13,13,13)" fill-opacity="0.8" filter="url(#bl3)"/>
<polygon points="949.8,566.5 945.7,563.2 947.9,557.2 953.1,555.7 957.0,559.4 958.1,565.9" fill="rgb(64,64,64)" fill-opacity="0.7" filter="url(#bl1_5)"/>
<polygon points="994.3,587.0 995.4,591.2 988.9,595.6 981.0,588.4 987.5,582.9" fill="rgb(64,64,64)" fill-opacity="0.7" filter="url(#bl1_5)"/>
<polygon points="1004.9,631.1 1001.1,633.8 992.2,632.5 994.5,627.4 1002.5,625.9" fill="rgb(64,64,64)" fill-opacity="0.7" filter="url(#bl1_5)"/>
<polygon points="1048.5,605.1 1053.2,600.5 1062.9,602.3 1064.3,609.1 1053.1,610.8" fill="rgb(64,64,64)" fill-opacity="0.7" filter="url(#bl1_5)"/>
<polygon points="940.5,665.9 950.0,668.0 951.7,673.9 941.9,676.6 935.7,671.4" fill="rgb(64,64,64)" fill-opacity="0.7" filter="url(#bl1_5)"/>
<polygon points="1045.5,677.6 1045.8,681.8 1038.4,684.2 1033.3,682.4 1033.9,675.7 1038.6,674.7" fill="rgb(64,64,64)" fill-opacity="0.7" filter="url(#bl1_5)"/>
<polygon points="1068.2,549.7 1072.3,554.2 1068.9,559.3 1060.8,558.7 1056.7,555.5 1061.8,547.8" fill="rgb(64,64,64)" fill-opacity="0.7" filter="url(#bl1_5)"/>
<polygon points="990.9,539.4 992.3,542.2 992.2,546.1 983.1,547.7 980.0,544.7 978.4,542.0 985.0,539.7" fill="rgb(64,64,64)" fill-opacity="0.7" filter="url(#bl1_5)"/>
<polygon points="1017.1,605.2 1012.8,600.6 1015.7,593.2 1023.2,594.6 1023.1,601.6" fill="rgb(64,64,64)" fill-opacity="0.7" filter="url(#bl1_5)"/>
<polygon points="935.0,612.6 931.2,608.8 927.0,602.1 930.5,596.6 937.5,597.1 939.2,603.1" fill="rgb(64,64,64)" fill-opacity="0.7" filter="url(#bl1_5)"/>
<polygon points="1080.6,661.8 1082.1,664.2 1078.8,670.6 1073.0,669.6 1070.0,666.6 1070.6,661.9 1072.8,658.3" fill="rgb(64,64,64)" fill-opacity="0.7" filter="url(#bl1_5)"/>
<polygon points="1003.9,668.0 1010.1,674.5 1005.9,680.3 993.1,678.5 993.4,669.9" fill="rgb(64,64,64)" fill-opacity="0.7" filter="url(#bl1_5)"/>
<polygon points="955.4,681.2 961.0,677.9 966.8,677.4 967.0,682.5 960.9,685.8 955.6,684.3" fill="rgb(64,64,64)" fill-opacity="0.7" filter="url(#bl1_5)"/>
<polygon points="951.4,662.4 951.6,671.2 943.4,671.9 937.7,671.9 933.7,663.7 939.0,656.5 948.8,657.4" fill="rgb(64,64,64)" fill-opacity="0.7" filter="url(#bl1_5)"/>
<polygon points="961.8,682.6 951.0,685.7 944.5,678.3 948.8,673.5 962.7,675.9" fill="rgb(64,64,64)" fill-opacity="0.7" filter="url(#bl1_5)"/>
<polygon points="982.0,662.3 990.3,665.3 990.9,675.0 978.7,674.6 978.0,669.6" fill="rgb(64,64,64)" fill-opacity="0.7" filter="url(#bl1_5)"/>
<polygon points="1045.0,672.7 1039.0,665.6 1047.3,658.6 1056.3,660.2 1056.8,668.0" fill="rgb(64,64,64)" fill-opacity="0.7" filter="url(#bl1_5)"/>
<polygon points="1055.1,673.4 1058.8,668.6 1066.2,668.0 1069.9,673.5 1069.3,678.6 1066.5,680.6 1061.1,679.4" fill="rgb(64,64,64)" fill-opacity="0.7" filter="url(#bl1_5)"/>
<polygon points="1014.0,634.6 1010.7,627.7 1021.6,623.8 1027.5,628.3 1025.1,634.6" fill="rgb(64,64,64)" fill-opacity="0.7" filter="url(#bl1_5)"/>
<polygon points="1053.5,624.1 1055.1,616.3 1064.5,615.8 1065.5,623.0 1059.1,626.2" fill="rgb(64,64,64)" fill-opacity="0.7" filter="url(#bl1_5)"/>
<polygon points="941.3,631.4 941.7,627.0 946.0,623.2 952.5,628.5 952.6,631.8 946.8,635.4" fill="rgb(64,64,64)" fill-opacity="0.7" filter="url(#bl1_5)"/>
<polygon points="1012.5,540.8 1019.7,543.1 1018.8,549.1 1012.8,550.2 1006.3,546.0" fill="rgb(64,64,64)" fill-opacity="0.7" filter="url(#bl1_5)"/>
<polygon points="1083.4,564.4 1084.3,573.7 1081.0,577.6 1077.0,570.7 1079.2,561.3" fill="rgb(64,64,64)" fill-opacity="0.7" filter="url(#bl1_5)"/>
<polygon points="959.6,577.2 953.4,574.7 951.9,568.6 957.0,566.1 964.1,568.1 967.7,573.0" fill="rgb(64,64,64)" fill-opacity="0.7" filter="url(#bl1_5)"/>
<polygon points="987.7,567.7 992.4,563.4 999.2,566.3 999.0,572.9 994.0,574.9 988.3,573.4" fill="rgb(64,64,64)" fill-opacity="0.7" filter="url(#bl1_5)"/>
<rect x="931.5" y="539.5" width="153.5" height="152.0" fill="#888" opacity="0.36" filter="url(#nz_c4_hi)"/>
<ellipse cx="937" cy="560.5" rx="4.0" ry="4.0" transform="rotate(0 937 560.5)" fill="rgb(247,247,247)" fill-opacity="0.55" filter="url(#bl2)"/>
<ellipse cx="975.5" cy="546.5" rx="4.800000000000001" ry="4.0" transform="rotate(0 975.5 546.5)" fill="rgb(247,247,247)" fill-opacity="0.55" filter="url(#bl2)"/>
<ellipse cx="946" cy="587.5" rx="7.2" ry="4.0" transform="rotate(0 946 587.5)" fill="rgb(247,247,247)" fill-opacity="0.55" filter="url(#bl2)"/>
<ellipse cx="971" cy="598.5" rx="7.2" ry="4.0" transform="rotate(0 971 598.5)" fill="rgb(247,247,247)" fill-opacity="0.55" filter="url(#bl2)"/>
<ellipse cx="983" cy="577.5" rx="3.2" ry="3.2" transform="rotate(0 983 577.5)" fill="rgb(247,247,247)" fill-opacity="0.55" filter="url(#bl2)"/>
<ellipse cx="1029" cy="561.5" rx="6.4" ry="5.6000000000000005" transform="rotate(0 1029 561.5)" fill="rgb(247,247,247)" fill-opacity="0.55" filter="url(#bl2)"/>
<ellipse cx="1032" cy="575.5" rx="6.4" ry="4.800000000000001" transform="rotate(0 1032 575.5)" fill="rgb(247,247,247)" fill-opacity="0.55" filter="url(#bl2)"/>
<ellipse cx="1075" cy="592.5" rx="7.2" ry="4.800000000000001" transform="rotate(0 1075 592.5)" fill="rgb(247,247,247)" fill-opacity="0.55" filter="url(#bl2)"/>
<ellipse cx="1024" cy="545.5" rx="4.0" ry="3.2" transform="rotate(0 1024 545.5)" fill="rgb(247,247,247)" fill-opacity="0.55" filter="url(#bl2)"/>
<ellipse cx="1037" cy="609.5" rx="2.4000000000000004" ry="4.0" transform="rotate(0 1037 609.5)" fill="rgb(247,247,247)" fill-opacity="0.55" filter="url(#bl2)"/>
<ellipse cx="1075" cy="615.5" rx="6.4" ry="3.2" transform="rotate(0 1075 615.5)" fill="rgb(247,247,247)" fill-opacity="0.55" filter="url(#bl2)"/>
<ellipse cx="961" cy="650.5" rx="4.800000000000001" ry="3.2" transform="rotate(0 961 650.5)" fill="rgb(247,247,247)" fill-opacity="0.55" filter="url(#bl2)"/>
<ellipse cx="1027" cy="654.5" rx="3.2" ry="3.2" transform="rotate(0 1027 654.5)" fill="rgb(247,247,247)" fill-opacity="0.55" filter="url(#bl2)"/>
<ellipse cx="1069" cy="656.5" rx="4.0" ry="3.2" transform="rotate(0 1069 656.5)" fill="rgb(247,247,247)" fill-opacity="0.55" filter="url(#bl2)"/>
<ellipse cx="1045" cy="630.5" rx="6.4" ry="4.0" transform="rotate(0 1045 630.5)" fill="rgb(247,247,247)" fill-opacity="0.55" filter="url(#bl2)"/>
<ellipse cx="941" cy="636.5" rx="7.2" ry="4.800000000000001" transform="rotate(0 941 636.5)" fill="rgb(247,247,247)" fill-opacity="0.55" filter="url(#bl2)"/>
<polygon points="968.7,566.5 971.4,559.5 978.9,561.7 978.4,570.1 976.9,573.0 969.7,570.9" fill="rgb(10,10,10)" fill-opacity="0.45" filter="url(#bl1)"/>
<polygon points="1007.9,556.8 1006.4,568.1 998.5,562.4 997.6,548.2 1002.8,544.7" fill="rgb(10,10,10)" fill-opacity="0.45" filter="url(#bl1)"/>
<polygon points="1008.9,566.2 1006.8,552.0 1008.2,546.9 1015.8,548.5 1016.7,554.8 1014.0,563.4" fill="rgb(10,10,10)" fill-opacity="0.45" filter="url(#bl1)"/>
<polygon points="1036.2,563.9 1041.5,557.1 1045.4,555.9 1050.4,561.1 1047.7,567.4 1042.9,569.6" fill="rgb(10,10,10)" fill-opacity="0.45" filter="url(#bl1)"/>
<polygon points="1051.4,547.6 1050.1,548.2 1045.6,546.3 1045.6,543.1 1046.2,541.4 1049.9,540.3 1051.9,543.4" fill="rgb(10,10,10)" fill-opacity="0.45" filter="url(#bl1)"/>
<polygon points="965.5,593.6 965.5,590.4 966.8,589.5 971.1,588.7 972.4,593.1 971.6,595.6 967.9,595.7" fill="rgb(10,10,10)" fill-opacity="0.45" filter="url(#bl1)"/>
<polygon points="958.2,615.3 955.8,615.7 950.3,612.1 953.1,602.0 956.6,600.2 959.9,607.3" fill="rgb(10,10,10)" fill-opacity="0.45" filter="url(#bl1)"/>
<polygon points="973.0,625.9 965.8,622.9 962.6,618.6 971.7,614.4 977.3,617.9" fill="rgb(10,10,10)" fill-opacity="0.45" filter="url(#bl1)"/>
<polygon points="936.4,624.9 936.2,629.8 933.3,630.9 931.5,628.4 931.9,623.9 933.9,623.0" fill="rgb(10,10,10)" fill-opacity="0.45" filter="url(#bl1)"/>
<polygon points="949.0,652.2 941.4,651.5 940.6,650.0 941.5,645.1 945.1,643.5 952.1,646.4 951.1,650.7" fill="rgb(10,10,10)" fill-opacity="0.45" filter="url(#bl1)"/>
<polygon points="985.1,648.2 989.1,654.0 988.0,657.2 981.5,657.1 975.0,655.6 976.4,648.9 981.1,645.3" fill="rgb(10,10,10)" fill-opacity="0.45" filter="url(#bl1)"/>
<polygon points="1018.3,640.9 1021.8,645.9 1009.8,648.7 1002.6,642.9 1010.7,638.4" fill="rgb(10,10,10)" fill-opacity="0.45" filter="url(#bl1)"/>
<polygon points="1049.5,644.6 1051.6,641.4 1060.8,641.5 1068.6,645.3 1058.7,651.1 1049.5,649.8" fill="rgb(10,10,10)" fill-opacity="0.45" filter="url(#bl1)"/>
<polygon points="1084.2,625.7 1082.2,632.1 1079.4,635.6 1075.3,633.8 1073.5,624.5 1076.9,620.5 1080.5,619.7" fill="rgb(10,10,10)" fill-opacity="0.45" filter="url(#bl1)"/>
<polygon points="1015.6,660.1 1011.8,656.3 1011.8,652.7 1019.3,651.7 1021.1,657.2" fill="rgb(10,10,10)" fill-opacity="0.45" filter="url(#bl1)"/>
<ellipse cx="1005" cy="611.5" rx="17.849999999999998" ry="16.15" transform="rotate(0 1005 611.5)" fill="rgb(26,26,26)" fill-opacity="0.4" filter="url(#bl3)"/>
</g></g>
<rect x="931.5" y="539.5" width="153.5" height="152.0" fill="none" stroke="#222" stroke-width="1"/>
<rect x="1130.2" y="14.8" width="53" height="43.5" fill="#fff" stroke="#444" stroke-width="1.5"/>
<text transform="translate(1156.6,47.4) scale(1,1.06)" font-size="28.6" text-anchor="middle">(b)</text>
<rect x="1132.8" y="369.8" width="45" height="43.5" fill="#fff" stroke="#444" stroke-width="1.5"/>
<text transform="translate(1153,402.4) scale(1,1.06)" font-size="28.6" text-anchor="middle">(c)</text>
<ellipse cx="764.8" cy="111.8" rx="25.5" ry="25.5" fill="none" stroke="#f00" stroke-width="5"/>
<ellipse cx="1004.2" cy="113.8" rx="25.3" ry="26.3" fill="none" stroke="#f00" stroke-width="5"/>
<ellipse cx="767" cy="278.7" rx="25.5" ry="26.5" fill="none" stroke="#f00" stroke-width="5"/>
<ellipse cx="1005.6" cy="278.8" rx="25" ry="26.3" fill="none" stroke="#f00" stroke-width="5"/>
<ellipse cx="771" cy="451" rx="27" ry="23.7" fill="none" stroke="#f00" stroke-width="3"/>
<ellipse cx="1007.5" cy="451.4" rx="27" ry="23.5" fill="none" stroke="#f00" stroke-width="3"/>
<ellipse cx="771.8" cy="610.3" rx="27.2" ry="23.7" fill="none" stroke="#f00" stroke-width="3"/>
<ellipse cx="1006.7" cy="611.2" rx="26.8" ry="23.8" fill="none" stroke="#f00" stroke-width="3"/>
<rect x="850" y="36.8" width="9.4" height="70.7" fill="url(#cbar)" stroke="#333" stroke-width="1"/>
<text transform="translate(863.5,46.8) scale(1,1.2)" font-size="13.5">20 nm</text>
<text transform="translate(863.5,107.5) scale(1,1.2)" font-size="13.5">0 nm</text>
<rect x="1088" y="35.6" width="9.4" height="70.6" fill="url(#cbar)" stroke="#333" stroke-width="1"/>
<text transform="translate(1101,45.6) scale(1,1.2)" font-size="13.5">3 V</text>
<text transform="translate(1101,106.2) scale(1,1.2)" font-size="13.5">-3 V</text>
<rect x="850" y="200.6" width="9.4" height="69.9" fill="url(#cbar)" stroke="#333" stroke-width="1"/>
<text transform="translate(863.5,210.6) scale(1,1.2)" font-size="13.5">20 nm</text>
<text transform="translate(863.5,270.5) scale(1,1.2)" font-size="13.5">0 nm</text>
<rect x="1088" y="200.6" width="9.5" height="70.4" fill="url(#cbar)" stroke="#333" stroke-width="1"/>
<text transform="translate(1101,210.6) scale(1,1.2)" font-size="13.5">3 V</text>
<text transform="translate(1101,271.0) scale(1,1.2)" font-size="13.5">-3 V</text>
<rect x="852.2" y="380.7" width="9.4" height="67.9" fill="url(#cbar)" stroke="#333" stroke-width="1"/>
<text transform="translate(866.5,390.7) scale(1,1.2)" font-size="13.5">50 nm</text>
<text transform="translate(866.5,448.6) scale(1,1.2)" font-size="13.5">0 nm</text>
<rect x="1091.2" y="380.6" width="9.1" height="68.6" fill="url(#cbar)" stroke="#333" stroke-width="1"/>
<text transform="translate(1104.4,390.6) scale(1,1.2)" font-size="13.5">5 V</text>
<text transform="translate(1104.4,449.2) scale(1,1.2)" font-size="13.5">-5 V</text>
<rect x="852.6" y="540.6" width="9.4" height="68.2" fill="url(#cbar)" stroke="#333" stroke-width="1"/>
<text transform="translate(866.5,550.6) scale(1,1.2)" font-size="13.5">50 nm</text>
<text transform="translate(866.5,608.8) scale(1,1.2)" font-size="13.5">0 nm</text>
<rect x="1089.8" y="540" width="10.0" height="68.9" fill="url(#cbar)" stroke="#333" stroke-width="1"/>
<text transform="translate(1103,550.0) scale(1,1.2)" font-size="13.5">5 V</text>
<text transform="translate(1103,608.9) scale(1,1.2)" font-size="13.5">-5 V</text>
<line x1="687.4" y1="44.5" x2="687.4" y2="183" stroke="#000" stroke-width="1.3" stroke-dasharray="4,3"/><path d="M687.4,39.5L690.4,45.5L684.4,45.5Z" fill="#000"/><path d="M687.4,188L690.4,182L684.4,182Z" fill="#000"/>
<line x1="687.4" y1="208" x2="687.4" y2="347" stroke="#000" stroke-width="1.3" stroke-dasharray="4,3"/><path d="M687.4,203L690.4,209L684.4,209Z" fill="#000"/><path d="M687.4,352L690.4,346L684.4,346Z" fill="#000"/>
<line x1="922.2" y1="44.5" x2="922.2" y2="183" stroke="#000" stroke-width="1.3" stroke-dasharray="4,3"/><path d="M922.2,39.5L925.2,45.5L919.2,45.5Z" fill="#000"/><path d="M922.2,188L925.2,182L919.2,182Z" fill="#000"/>
<line x1="922.2" y1="208" x2="922.2" y2="347" stroke="#000" stroke-width="1.3" stroke-dasharray="4,3"/><path d="M922.2,203L925.2,209L919.2,209Z" fill="#000"/><path d="M922.2,352L925.2,346L919.2,346Z" fill="#000"/>
<line x1="690" y1="389" x2="690" y2="520" stroke="#000" stroke-width="1.3" stroke-dasharray="4,3"/><path d="M690,384L693,390L687,390Z" fill="#000"/><path d="M690,525L693,519L687,519Z" fill="#000"/>
<line x1="690" y1="549" x2="690" y2="681" stroke="#000" stroke-width="1.3" stroke-dasharray="4,3"/><path d="M690,544L693,550L687,550Z" fill="#000"/><path d="M690,686L693,680L687,680Z" fill="#000"/>
<line x1="922" y1="389" x2="922" y2="520" stroke="#000" stroke-width="1.3" stroke-dasharray="4,3"/><path d="M922,384L925,390L919,390Z" fill="#000"/><path d="M922,525L925,519L919,519Z" fill="#000"/>
<line x1="922" y1="549" x2="922" y2="681" stroke="#000" stroke-width="1.3" stroke-dasharray="4,3"/><path d="M922,544L925,550L919,550Z" fill="#000"/><path d="M922,686L925,680L919,680Z" fill="#000"/>
<rect x="667.8" y="89.3" width="25.1" height="50.4" fill="#fff" stroke="#c8c8c8" stroke-width="1"/>
<text transform="translate(685.3,114.5) rotate(-90)" font-size="14" text-anchor="middle">1 µm</text>
<rect x="667.7" y="252.7" width="25.2" height="49.3" fill="#fff" stroke="#c8c8c8" stroke-width="1"/>
<text transform="translate(685.3,277.4) rotate(-90)" font-size="14" text-anchor="middle">1 µm</text>
<rect x="902.5" y="89" width="25.9" height="48.3" fill="#fff" stroke="#c8c8c8" stroke-width="1"/>
<text transform="translate(920.5,113.2) rotate(-90)" font-size="14" text-anchor="middle">1 µm</text>
<rect x="902.7" y="253.5" width="25.6" height="48.5" fill="#fff" stroke="#c8c8c8" stroke-width="1"/>
<text transform="translate(920.5,277.8) rotate(-90)" font-size="14" text-anchor="middle">1 µm</text>
<rect x="675" y="430.5" width="20.6" height="48.9" fill="#fff" stroke="#c8c8c8" stroke-width="1"/>
<text transform="translate(690.3,454.9) rotate(-90)" font-size="14" text-anchor="middle">3 µm</text>
<rect x="674.9" y="591" width="20.9" height="48.0" fill="#fff" stroke="#c8c8c8" stroke-width="1"/>
<text transform="translate(690.3,615.0) rotate(-90)" font-size="14" text-anchor="middle">3 µm</text>
<rect x="905" y="431.3" width="25.2" height="48.0" fill="#fff" stroke="#c8c8c8" stroke-width="1"/>
<text transform="translate(922.6,455.3) rotate(-90)" font-size="14" text-anchor="middle">3 µm</text>
<rect x="905" y="591" width="25.2" height="48.0" fill="#fff" stroke="#c8c8c8" stroke-width="1"/>
<text transform="translate(922.6,615.0) rotate(-90)" font-size="14" text-anchor="middle">3 µm</text>
<rect x="672" y="20.7" width="458.8" height="345.5" fill="none" stroke="#000" stroke-width="5"/>
<rect x="672" y="371.8" width="458.3" height="336.2" fill="none" stroke="#f00" stroke-width="4.6"/>
<rect x="702.7" y="184.7" width="137.5" height="27.9" fill="#fff" stroke="#222" stroke-width="1.4"/>
<text transform="translate(709.9,204) scale(1,1.09)" font-size="22" textLength="111.7" lengthAdjust="spacingAndGlyphs">Topography</text>
<rect x="927.2" y="164" width="156.5" height="26.7" fill="#fff" stroke="#222" stroke-width="1.4"/>
<text transform="translate(929.3,183.5) scale(1,1.09)" font-size="21.5" textLength="153.3" lengthAdjust="spacingAndGlyphs">Before switching</text>
<rect x="927.4" y="326.8" width="157.0" height="27.4" fill="#fff" stroke="#222" stroke-width="1.4"/>
<text transform="translate(931,346) scale(1,1.09)" font-size="21.5" textLength="140" lengthAdjust="spacingAndGlyphs">After switching</text>
<rect x="703.7" y="522.7" width="137.3" height="27.8" fill="#fff" stroke="#222" stroke-width="1.4"/>
<text transform="translate(710.5,542) scale(1,1.09)" font-size="22" textLength="111.7" lengthAdjust="spacingAndGlyphs">Topography</text>
<rect x="930.2" y="503.2" width="156.3" height="28.3" fill="#fff" stroke="#222" stroke-width="1.4"/>
<text transform="translate(932,524) scale(1,1.09)" font-size="21.5" textLength="153.3" lengthAdjust="spacingAndGlyphs">Before switching</text>
<rect x="930.1" y="663.3" width="156.3" height="28.1" fill="#fff" stroke="#222" stroke-width="1.4"/>
<text transform="translate(933,684) scale(1,1.09)" font-size="21.5" textLength="140" lengthAdjust="spacingAndGlyphs">After switching</text>
</svg>
</body></html>
